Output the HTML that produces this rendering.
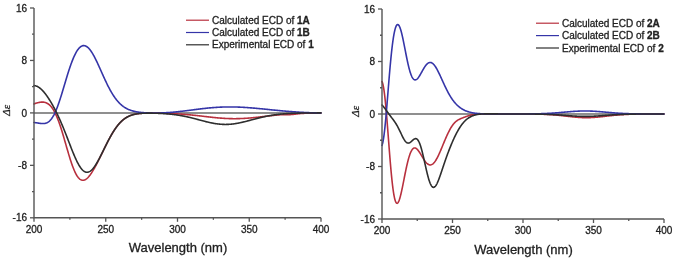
<!DOCTYPE html>
<html><head><meta charset="utf-8"><style>
html,body{margin:0;padding:0;background:#fff;overflow:hidden;width:675px;height:259px;}
svg{display:block;will-change:transform;}
.t{font-family:"Liberation Sans",sans-serif;font-size:10px;fill:#222;stroke:#222;stroke-width:0.3px;}
.xl{font-family:"Liberation Sans",sans-serif;font-size:13px;fill:#222;stroke:#222;stroke-width:0.3px;}
.yl{font-family:"Liberation Serif",serif;font-style:italic;font-size:11px;fill:#222;stroke:#222;stroke-width:0.3px;}
</style></head><body>
<svg width="675" height="259" viewBox="0 0 675 259">
<rect width="675" height="259" fill="#fff"/>
<line x1="34" y1="112.9" x2="321" y2="112.9" stroke="#6a6a6a" stroke-width="1.5"/>
<path d="M34.00,103.88 L34.50,103.70 L35.00,103.54 L35.50,103.37 L36.00,103.22 L36.50,103.06 L37.00,102.92 L37.50,102.78 L38.00,102.66 L38.50,102.54 L39.00,102.43 L39.50,102.34 L40.00,102.26 L40.50,102.19 L41.00,102.14 L41.50,102.10 L42.00,102.08 L42.50,102.08 L43.00,102.10 L43.50,102.15 L44.00,102.21 L44.50,102.31 L45.00,102.42 L45.50,102.57 L46.00,102.75 L46.50,102.96 L47.00,103.20 L47.45,103.44 L47.90,103.72 L48.35,104.03 L48.80,104.36 L49.20,104.69 L49.60,105.05 L50.00,105.43 L50.35,105.79 L50.70,106.17 L51.05,106.57 L51.40,106.99 L51.75,107.44 L52.05,107.84 L52.35,108.27 L52.65,108.70 L52.95,109.16 L53.25,109.64 L53.55,110.13 L53.85,110.64 L54.10,111.08 L54.35,111.54 L54.60,112.00 L54.85,112.48 L55.10,112.98 L55.35,113.48 L55.60,114.00 L55.85,114.54 L56.10,115.08 L56.35,115.64 L56.60,116.21 L56.80,116.68 L57.00,117.15 L57.20,117.64 L57.40,118.13 L57.60,118.62 L57.80,119.13 L58.00,119.65 L58.20,120.17 L58.40,120.70 L58.60,121.24 L58.80,121.78 L59.00,122.33 L59.20,122.89 L59.40,123.46 L59.60,124.03 L59.80,124.61 L60.00,125.20 L60.20,125.80 L60.40,126.40 L60.60,127.00 L60.80,127.62 L61.00,128.24 L61.20,128.86 L61.40,129.49 L61.60,130.13 L61.75,130.61 L61.90,131.09 L62.05,131.57 L62.20,132.06 L62.35,132.55 L62.50,133.05 L62.65,133.54 L62.80,134.04 L62.95,134.54 L63.10,135.04 L63.25,135.55 L63.40,136.05 L63.55,136.56 L63.70,137.07 L63.85,137.58 L64.00,138.10 L64.15,138.61 L64.30,139.13 L64.45,139.64 L64.60,140.16 L64.75,140.68 L64.90,141.20 L65.05,141.72 L65.20,142.24 L65.35,142.76 L65.50,143.28 L65.65,143.81 L65.80,144.33 L65.95,144.85 L66.10,145.37 L66.25,145.89 L66.40,146.42 L66.55,146.94 L66.70,147.46 L66.85,147.98 L67.00,148.50 L67.15,149.01 L67.30,149.53 L67.45,150.05 L67.60,150.56 L67.75,151.07 L67.90,151.59 L68.05,152.10 L68.20,152.60 L68.35,153.11 L68.50,153.62 L68.65,154.12 L68.80,154.62 L68.95,155.12 L69.10,155.61 L69.25,156.10 L69.40,156.59 L69.55,157.08 L69.70,157.56 L69.85,158.05 L70.00,158.52 L70.20,159.16 L70.40,159.78 L70.60,160.40 L70.80,161.02 L71.00,161.62 L71.20,162.22 L71.40,162.82 L71.60,163.40 L71.80,163.98 L72.00,164.55 L72.20,165.11 L72.40,165.66 L72.60,166.21 L72.80,166.74 L73.00,167.27 L73.20,167.79 L73.40,168.30 L73.60,168.80 L73.80,169.29 L74.00,169.77 L74.20,170.24 L74.40,170.70 L74.65,171.26 L74.90,171.81 L75.15,172.34 L75.40,172.85 L75.65,173.35 L75.90,173.83 L76.15,174.29 L76.40,174.74 L76.70,175.25 L77.00,175.74 L77.30,176.20 L77.60,176.63 L77.90,177.05 L78.25,177.49 L78.60,177.91 L78.95,178.29 L79.35,178.68 L79.75,179.03 L80.15,179.33 L80.60,179.62 L81.05,179.86 L81.55,180.06 L82.05,180.19 L82.55,180.26 L83.05,180.27 L83.55,180.22 L84.05,180.11 L84.55,179.95 L85.05,179.73 L85.50,179.49 L85.95,179.21 L86.40,178.89 L86.80,178.58 L87.20,178.23 L87.60,177.86 L88.00,177.46 L88.35,177.09 L88.70,176.70 L89.05,176.29 L89.40,175.87 L89.75,175.42 L90.10,174.97 L90.40,174.56 L90.70,174.14 L91.00,173.72 L91.30,173.28 L91.60,172.83 L91.90,172.37 L92.20,171.91 L92.50,171.43 L92.80,170.95 L93.10,170.45 L93.40,169.95 L93.70,169.44 L94.00,168.93 L94.25,168.49 L94.50,168.05 L94.75,167.60 L95.00,167.15 L95.25,166.70 L95.50,166.24 L95.75,165.78 L96.00,165.31 L96.25,164.84 L96.50,164.37 L96.75,163.89 L97.00,163.41 L97.25,162.93 L97.50,162.45 L97.75,161.96 L98.00,161.46 L98.25,160.97 L98.50,160.47 L98.75,159.98 L99.00,159.47 L99.25,158.97 L99.50,158.47 L99.75,157.96 L100.00,157.45 L100.25,156.94 L100.50,156.43 L100.75,155.92 L101.00,155.41 L101.25,154.90 L101.50,154.38 L101.75,153.87 L102.00,153.35 L102.25,152.84 L102.50,152.32 L102.75,151.81 L103.00,151.29 L103.25,150.78 L103.50,150.26 L103.75,149.75 L104.00,149.23 L104.25,148.72 L104.50,148.21 L104.75,147.70 L105.00,147.19 L105.25,146.68 L105.50,146.17 L105.75,145.67 L106.00,145.16 L106.25,144.66 L106.50,144.16 L106.75,143.66 L107.00,143.17 L107.25,142.68 L107.50,142.18 L107.75,141.70 L108.00,141.21 L108.25,140.73 L108.50,140.25 L108.75,139.77 L109.00,139.30 L109.25,138.83 L109.50,138.36 L109.75,137.90 L110.00,137.44 L110.25,136.98 L110.50,136.53 L110.75,136.08 L111.00,135.63 L111.25,135.19 L111.50,134.76 L111.80,134.24 L112.10,133.73 L112.40,133.22 L112.70,132.72 L113.00,132.23 L113.30,131.74 L113.60,131.26 L113.90,130.79 L114.20,130.32 L114.50,129.86 L114.80,129.41 L115.10,128.97 L115.40,128.53 L115.70,128.10 L116.00,127.68 L116.30,127.26 L116.60,126.85 L116.90,126.45 L117.25,125.99 L117.60,125.54 L117.95,125.11 L118.30,124.68 L118.65,124.26 L119.00,123.85 L119.35,123.46 L119.70,123.07 L120.05,122.69 L120.40,122.32 L120.75,121.97 L121.15,121.57 L121.55,121.18 L121.95,120.81 L122.35,120.45 L122.75,120.11 L123.15,119.77 L123.55,119.45 L123.95,119.14 L124.40,118.80 L124.85,118.48 L125.30,118.17 L125.75,117.87 L126.20,117.59 L126.65,117.32 L127.10,117.07 L127.55,116.82 L128.00,116.59 L128.45,116.37 L128.95,116.13 L129.45,115.91 L129.95,115.71 L130.45,115.51 L130.95,115.33 L131.45,115.15 L131.95,114.99 L132.45,114.84 L132.95,114.69 L133.45,114.56 L133.95,114.44 L134.45,114.32 L134.95,114.21 L135.45,114.11 L135.95,114.02 L136.45,113.93 L136.95,113.85 L137.45,113.77 L137.95,113.70 L138.45,113.64 L138.95,113.58 L139.45,113.53 L139.95,113.48 L140.45,113.43 L140.95,113.39 L141.45,113.35 L141.95,113.32 L142.45,113.29 L142.95,113.26 L143.45,113.23 L143.95,113.21 L144.45,113.19 L144.95,113.17 L145.45,113.15 L145.95,113.14 L146.45,113.13 L146.95,113.11 L147.45,113.10 L147.95,113.10 L148.45,113.09 L148.95,113.09 L149.45,113.08 L149.95,113.08 L150.45,113.08 L150.95,113.07 L151.45,113.07 L151.95,113.08 L152.45,113.08 L152.95,113.08 L153.45,113.08 L153.95,113.09 L154.45,113.09 L154.95,113.10 L155.45,113.10 L155.95,113.11 L156.45,113.11 L156.95,113.12 L157.45,113.13 L157.95,113.14 L158.45,113.15 L158.95,113.16 L159.45,113.17 L159.95,113.18 L160.45,113.19 L160.95,113.20 L161.45,113.21 L161.95,113.22 L162.45,113.24 L162.95,113.25 L163.45,113.26 L163.95,113.28 L164.45,113.29 L164.95,113.31 L165.45,113.32 L165.95,113.34 L166.45,113.36 L166.95,113.37 L167.45,113.39 L167.95,113.41 L168.45,113.43 L168.95,113.45 L169.45,113.47 L169.95,113.49 L170.45,113.51 L170.95,113.53 L171.45,113.55 L171.95,113.58 L172.45,113.60 L172.95,113.62 L173.45,113.65 L173.95,113.67 L174.45,113.70 L174.95,113.73 L175.45,113.75 L175.95,113.78 L176.45,113.81 L176.95,113.84 L177.45,113.87 L177.95,113.90 L178.45,113.93 L178.95,113.97 L179.45,114.00 L179.95,114.03 L180.45,114.07 L180.95,114.10 L181.45,114.14 L181.95,114.17 L182.45,114.21 L182.95,114.25 L183.45,114.29 L183.95,114.33 L184.45,114.37 L184.95,114.41 L185.45,114.45 L185.95,114.49 L186.45,114.53 L186.95,114.58 L187.45,114.62 L187.95,114.66 L188.45,114.71 L188.95,114.76 L189.45,114.80 L189.95,114.85 L190.45,114.90 L190.95,114.95 L191.45,115.00 L191.95,115.04 L192.45,115.10 L192.95,115.15 L193.45,115.20 L193.95,115.25 L194.45,115.30 L194.95,115.36 L195.45,115.41 L195.95,115.46 L196.45,115.52 L196.95,115.57 L197.45,115.63 L197.95,115.68 L198.45,115.74 L198.95,115.80 L199.45,115.85 L199.95,115.91 L200.45,115.97 L200.95,116.02 L201.45,116.08 L201.95,116.14 L202.45,116.20 L202.95,116.25 L203.45,116.31 L203.95,116.37 L204.45,116.43 L204.95,116.49 L205.45,116.54 L205.95,116.60 L206.45,116.66 L206.95,116.72 L207.45,116.78 L207.95,116.83 L208.45,116.89 L208.95,116.95 L209.45,117.00 L209.95,117.06 L210.45,117.12 L210.95,117.17 L211.45,117.23 L211.95,117.28 L212.45,117.33 L212.95,117.39 L213.45,117.44 L213.95,117.49 L214.45,117.54 L214.95,117.59 L215.45,117.64 L215.95,117.69 L216.45,117.74 L216.95,117.79 L217.45,117.84 L217.95,117.88 L218.45,117.93 L218.95,117.97 L219.45,118.01 L219.95,118.05 L220.45,118.10 L220.95,118.13 L221.45,118.17 L221.95,118.21 L222.45,118.25 L222.95,118.28 L223.45,118.31 L223.95,118.35 L224.45,118.38 L224.95,118.41 L225.45,118.43 L225.95,118.46 L226.45,118.49 L226.95,118.51 L227.45,118.53 L227.95,118.55 L228.45,118.57 L228.95,118.59 L229.45,118.61 L229.95,118.62 L230.45,118.64 L230.95,118.65 L231.45,118.66 L231.95,118.67 L232.45,118.67 L232.95,118.68 L233.45,118.68 L233.95,118.69 L234.45,118.69 L234.95,118.69 L235.45,118.68 L235.95,118.68 L236.45,118.67 L236.95,118.67 L237.45,118.66 L237.95,118.65 L238.45,118.64 L238.95,118.62 L239.45,118.61 L239.95,118.59 L240.45,118.57 L240.95,118.55 L241.45,118.53 L241.95,118.51 L242.45,118.49 L242.95,118.46 L243.45,118.44 L243.95,118.41 L244.45,118.38 L244.95,118.35 L245.45,118.32 L245.95,118.28 L246.45,118.25 L246.95,118.21 L247.45,118.18 L247.95,118.14 L248.45,118.10 L248.95,118.06 L249.45,118.02 L249.95,117.97 L250.45,117.93 L250.95,117.88 L251.45,117.84 L251.95,117.79 L252.45,117.75 L252.95,117.70 L253.45,117.65 L253.95,117.60 L254.45,117.55 L254.95,117.50 L255.45,117.44 L255.95,117.39 L256.45,117.34 L256.95,117.28 L257.45,117.23 L257.95,117.17 L258.45,117.12 L258.95,117.06 L259.45,117.01 L259.95,116.95 L260.45,116.89 L260.95,116.84 L261.45,116.78 L261.95,116.72 L262.45,116.66 L262.95,116.61 L263.45,116.55 L263.95,116.49 L264.45,116.43 L264.95,116.37 L265.45,116.32 L265.95,116.26 L266.45,116.20 L266.95,116.14 L267.45,116.08 L267.95,116.03 L268.45,115.97 L268.95,115.91 L269.45,115.86 L269.95,115.80 L270.45,115.74 L270.95,115.69 L271.45,115.63 L271.95,115.58 L272.45,115.52 L272.95,115.47 L273.45,115.41 L273.95,115.36 L274.45,115.31 L274.95,115.26 L275.45,115.20 L275.95,115.15 L276.45,115.11 L276.95,115.06 L277.45,115.01 L277.95,114.97 L278.45,114.92 L278.95,114.88 L279.45,114.84 L279.95,114.80 L280.45,114.77 L280.95,114.74 L281.45,114.71 L281.95,114.68 L282.45,114.66 L282.95,114.64 L283.45,114.63 L283.95,114.62 L284.45,114.61 L284.95,114.61 L285.45,114.60 L285.95,114.60 L286.45,114.61 L286.95,114.61 L287.45,114.61 L287.95,114.62 L288.45,114.62 L288.95,114.61 L289.45,114.61 L289.95,114.60 L290.45,114.58 L290.95,114.56 L291.45,114.53 L291.95,114.50 L292.45,114.46 L292.95,114.42 L293.45,114.37 L293.95,114.32 L294.45,114.26 L294.95,114.20 L295.45,114.13 L295.95,114.07 L296.45,114.01 L296.95,113.94 L297.45,113.88 L297.95,113.82 L298.45,113.76 L298.95,113.71 L299.45,113.65 L299.95,113.61 L300.45,113.56 L300.95,113.52 L301.45,113.48 L301.95,113.45 L302.45,113.42 L302.95,113.39 L303.45,113.36 L303.95,113.34 L304.45,113.32 L304.95,113.30 L305.45,113.28 L305.95,113.26 L306.45,113.24 L306.95,113.23 L307.45,113.21 L307.95,113.20 L308.45,113.19 L308.95,113.18 L309.45,113.17 L309.95,113.15 L310.45,113.14 L310.95,113.13 L311.45,113.12 L311.95,113.11 L312.45,113.11 L312.95,113.10 L313.45,113.09 L313.95,113.08 L314.45,113.07 L314.95,113.07 L315.45,113.06 L315.95,113.05 L316.45,113.04 L316.95,113.04 L317.45,113.03 L317.95,113.03 L318.45,113.02 L318.95,113.01 L319.45,113.01 L319.95,113.00 L320.45,113.00 L320.95,113.00 L321.00,112.99" fill="none" stroke="#b8303e" stroke-width="1.6" stroke-linejoin="round" stroke-linecap="round"/>
<path d="M34.00,122.47 L34.50,122.53 L35.00,122.60 L35.50,122.67 L36.00,122.74 L36.50,122.82 L37.00,122.89 L37.50,122.97 L38.00,123.05 L38.50,123.13 L39.00,123.20 L39.50,123.28 L40.00,123.34 L40.50,123.41 L41.00,123.46 L41.50,123.50 L42.00,123.54 L42.50,123.56 L43.00,123.56 L43.50,123.55 L44.00,123.51 L44.50,123.45 L45.00,123.37 L45.50,123.26 L46.00,123.11 L46.50,122.93 L47.00,122.72 L47.45,122.50 L47.90,122.24 L48.35,121.95 L48.80,121.61 L49.20,121.29 L49.60,120.93 L50.00,120.54 L50.35,120.17 L50.70,119.78 L51.05,119.36 L51.40,118.91 L51.70,118.51 L52.00,118.08 L52.30,117.63 L52.60,117.17 L52.90,116.68 L53.20,116.17 L53.45,115.73 L53.70,115.27 L53.95,114.81 L54.20,114.32 L54.45,113.82 L54.70,113.31 L54.95,112.79 L55.20,112.24 L55.45,111.69 L55.70,111.12 L55.90,110.66 L56.10,110.18 L56.30,109.70 L56.50,109.21 L56.70,108.71 L56.90,108.21 L57.10,107.69 L57.30,107.17 L57.50,106.64 L57.70,106.10 L57.90,105.56 L58.10,105.01 L58.30,104.45 L58.50,103.88 L58.70,103.31 L58.90,102.73 L59.10,102.14 L59.30,101.55 L59.50,100.95 L59.70,100.35 L59.90,99.74 L60.10,99.13 L60.30,98.51 L60.50,97.88 L60.70,97.25 L60.90,96.62 L61.05,96.14 L61.20,95.66 L61.35,95.18 L61.50,94.69 L61.65,94.21 L61.80,93.72 L61.95,93.23 L62.10,92.74 L62.25,92.24 L62.40,91.75 L62.55,91.25 L62.70,90.76 L62.85,90.26 L63.00,89.76 L63.15,89.26 L63.30,88.76 L63.45,88.25 L63.60,87.75 L63.75,87.25 L63.90,86.74 L64.05,86.24 L64.20,85.74 L64.35,85.23 L64.50,84.73 L64.65,84.22 L64.80,83.72 L64.95,83.22 L65.10,82.71 L65.25,82.21 L65.40,81.71 L65.55,81.20 L65.70,80.70 L65.85,80.20 L66.00,79.70 L66.15,79.21 L66.30,78.71 L66.45,78.21 L66.60,77.72 L66.75,77.23 L66.90,76.73 L67.05,76.24 L67.20,75.76 L67.35,75.27 L67.50,74.79 L67.65,74.30 L67.80,73.82 L67.95,73.34 L68.15,72.71 L68.35,72.08 L68.55,71.45 L68.75,70.83 L68.95,70.21 L69.15,69.60 L69.35,69.00 L69.55,68.39 L69.75,67.80 L69.95,67.21 L70.15,66.62 L70.35,66.04 L70.55,65.47 L70.75,64.90 L70.95,64.34 L71.15,63.78 L71.35,63.24 L71.55,62.70 L71.75,62.16 L71.95,61.63 L72.15,61.11 L72.35,60.60 L72.55,60.09 L72.75,59.59 L72.95,59.10 L73.15,58.62 L73.35,58.14 L73.55,57.68 L73.75,57.22 L74.00,56.65 L74.25,56.10 L74.50,55.56 L74.75,55.04 L75.00,54.53 L75.25,54.03 L75.50,53.54 L75.75,53.07 L76.00,52.61 L76.25,52.17 L76.55,51.65 L76.85,51.16 L77.15,50.69 L77.45,50.23 L77.75,49.80 L78.05,49.39 L78.40,48.94 L78.75,48.51 L79.10,48.12 L79.45,47.75 L79.85,47.36 L80.25,47.02 L80.65,46.71 L81.10,46.41 L81.55,46.15 L82.05,45.93 L82.55,45.76 L83.05,45.65 L83.55,45.60 L84.05,45.61 L84.55,45.67 L85.05,45.79 L85.55,45.97 L86.05,46.19 L86.50,46.45 L86.95,46.74 L87.40,47.08 L87.80,47.41 L88.20,47.77 L88.60,48.17 L88.95,48.54 L89.30,48.93 L89.65,49.34 L90.00,49.78 L90.35,50.24 L90.65,50.64 L90.95,51.07 L91.25,51.50 L91.55,51.95 L91.85,52.42 L92.15,52.90 L92.45,53.39 L92.75,53.89 L93.05,54.40 L93.30,54.84 L93.55,55.28 L93.80,55.73 L94.05,56.19 L94.30,56.66 L94.55,57.13 L94.80,57.61 L95.05,58.10 L95.30,58.59 L95.55,59.09 L95.80,59.59 L96.05,60.10 L96.30,60.61 L96.55,61.13 L96.80,61.65 L97.05,62.18 L97.30,62.71 L97.55,63.24 L97.80,63.78 L98.05,64.32 L98.30,64.86 L98.55,65.41 L98.80,65.96 L99.05,66.51 L99.30,67.06 L99.55,67.62 L99.80,68.17 L100.05,68.73 L100.30,69.29 L100.55,69.85 L100.80,70.41 L101.05,70.97 L101.30,71.53 L101.55,72.09 L101.80,72.65 L102.05,73.21 L102.30,73.77 L102.55,74.33 L102.80,74.89 L103.05,75.44 L103.30,76.00 L103.55,76.55 L103.80,77.10 L104.05,77.65 L104.30,78.20 L104.55,78.74 L104.80,79.28 L105.05,79.82 L105.30,80.36 L105.55,80.89 L105.80,81.42 L106.05,81.95 L106.30,82.47 L106.55,82.99 L106.80,83.51 L107.05,84.02 L107.30,84.53 L107.55,85.04 L107.80,85.54 L108.05,86.03 L108.30,86.52 L108.55,87.01 L108.80,87.49 L109.05,87.97 L109.30,88.44 L109.55,88.91 L109.80,89.38 L110.05,89.83 L110.30,90.29 L110.55,90.74 L110.80,91.18 L111.05,91.62 L111.35,92.13 L111.65,92.65 L111.95,93.15 L112.25,93.64 L112.55,94.13 L112.85,94.61 L113.15,95.08 L113.45,95.54 L113.75,96.00 L114.05,96.45 L114.35,96.89 L114.65,97.32 L114.95,97.74 L115.25,98.16 L115.55,98.56 L115.90,99.03 L116.25,99.48 L116.60,99.92 L116.95,100.36 L117.30,100.78 L117.65,101.19 L118.00,101.59 L118.35,101.98 L118.70,102.36 L119.05,102.73 L119.40,103.09 L119.80,103.49 L120.20,103.88 L120.60,104.25 L121.00,104.61 L121.40,104.96 L121.80,105.30 L122.20,105.63 L122.60,105.94 L123.00,106.25 L123.45,106.58 L123.90,106.89 L124.35,107.20 L124.80,107.49 L125.25,107.76 L125.70,108.03 L126.15,108.29 L126.60,108.53 L127.05,108.76 L127.50,108.99 L128.00,109.22 L128.50,109.45 L129.00,109.66 L129.50,109.86 L130.00,110.05 L130.50,110.23 L131.00,110.41 L131.50,110.57 L132.00,110.72 L132.50,110.87 L133.00,111.01 L133.50,111.14 L134.00,111.26 L134.50,111.38 L135.00,111.49 L135.50,111.59 L136.00,111.69 L136.50,111.78 L137.00,111.87 L137.50,111.96 L138.00,112.03 L138.50,112.11 L139.00,112.18 L139.50,112.24 L140.00,112.30 L140.50,112.36 L141.00,112.42 L141.50,112.47 L142.00,112.52 L142.50,112.56 L143.00,112.61 L143.50,112.65 L144.00,112.68 L144.50,112.72 L145.00,112.75 L145.50,112.78 L146.00,112.81 L146.50,112.84 L147.00,112.86 L147.50,112.89 L148.00,112.91 L148.50,112.93 L149.00,112.94 L149.50,112.96 L150.00,112.97 L150.50,112.99 L151.00,113.00 L151.50,113.01 L152.00,113.02 L152.50,113.02 L153.00,113.03 L153.50,113.03 L154.00,113.03 L154.50,113.03 L155.00,113.03 L155.50,113.03 L156.00,113.03 L156.50,113.02 L157.00,113.02 L157.50,113.01 L158.00,113.00 L158.50,112.99 L159.00,112.98 L159.50,112.97 L160.00,112.96 L160.50,112.94 L161.00,112.93 L161.50,112.91 L162.00,112.89 L162.50,112.87 L163.00,112.85 L163.50,112.83 L164.00,112.80 L164.50,112.78 L165.00,112.75 L165.50,112.73 L166.00,112.70 L166.50,112.67 L167.00,112.64 L167.50,112.61 L168.00,112.57 L168.50,112.54 L169.00,112.50 L169.50,112.47 L170.00,112.43 L170.50,112.39 L171.00,112.35 L171.50,112.31 L172.00,112.27 L172.50,112.23 L173.00,112.18 L173.50,112.14 L174.00,112.09 L174.50,112.05 L175.00,112.00 L175.50,111.95 L176.00,111.90 L176.50,111.85 L177.00,111.80 L177.50,111.75 L178.00,111.69 L178.50,111.64 L179.00,111.58 L179.50,111.53 L180.00,111.47 L180.50,111.42 L181.00,111.36 L181.50,111.30 L182.00,111.24 L182.50,111.18 L183.00,111.12 L183.50,111.06 L184.00,111.00 L184.50,110.94 L185.00,110.88 L185.50,110.82 L186.00,110.75 L186.50,110.69 L187.00,110.63 L187.50,110.56 L188.00,110.50 L188.50,110.43 L189.00,110.37 L189.50,110.31 L190.00,110.24 L190.50,110.18 L191.00,110.11 L191.50,110.05 L192.00,109.98 L192.50,109.92 L193.00,109.85 L193.50,109.79 L194.00,109.72 L194.50,109.66 L195.00,109.59 L195.50,109.53 L196.00,109.46 L196.50,109.40 L197.00,109.34 L197.50,109.27 L198.00,109.21 L198.50,109.15 L199.00,109.09 L199.50,109.03 L200.00,108.96 L200.50,108.90 L201.00,108.84 L201.50,108.78 L202.00,108.72 L202.50,108.67 L203.00,108.61 L203.50,108.55 L204.00,108.49 L204.50,108.44 L205.00,108.38 L205.50,108.33 L206.00,108.28 L206.50,108.22 L207.00,108.17 L207.50,108.12 L208.00,108.07 L208.50,108.02 L209.00,107.97 L209.50,107.92 L210.00,107.88 L210.50,107.83 L211.00,107.79 L211.50,107.74 L212.00,107.70 L212.50,107.66 L213.00,107.62 L213.50,107.58 L214.00,107.54 L214.50,107.50 L215.00,107.47 L215.50,107.43 L216.00,107.40 L216.50,107.36 L217.00,107.33 L217.50,107.30 L218.00,107.27 L218.50,107.24 L219.00,107.22 L219.50,107.19 L220.00,107.17 L220.50,107.14 L221.00,107.12 L221.50,107.10 L222.00,107.08 L222.50,107.06 L223.00,107.04 L223.50,107.03 L224.00,107.01 L224.50,107.00 L225.00,106.99 L225.50,106.97 L226.00,106.96 L226.50,106.96 L227.00,106.95 L227.50,106.94 L228.00,106.94 L228.50,106.93 L229.00,106.93 L229.50,106.93 L230.00,106.93 L230.50,106.93 L231.00,106.93 L231.50,106.93 L232.00,106.94 L232.50,106.94 L233.00,106.95 L233.50,106.96 L234.00,106.97 L234.50,106.98 L235.00,106.99 L235.50,107.00 L236.00,107.02 L236.50,107.03 L237.00,107.05 L237.50,107.06 L238.00,107.08 L238.50,107.10 L239.00,107.12 L239.50,107.14 L240.00,107.16 L240.50,107.19 L241.00,107.21 L241.50,107.24 L242.00,107.26 L242.50,107.29 L243.00,107.32 L243.50,107.34 L244.00,107.37 L244.50,107.40 L245.00,107.44 L245.50,107.47 L246.00,107.50 L246.50,107.53 L247.00,107.57 L247.50,107.60 L248.00,107.64 L248.50,107.68 L249.00,107.71 L249.50,107.75 L250.00,107.79 L250.50,107.83 L251.00,107.87 L251.50,107.91 L252.00,107.95 L252.50,107.99 L253.00,108.04 L253.50,108.08 L254.00,108.12 L254.50,108.17 L255.00,108.21 L255.50,108.26 L256.00,108.30 L256.50,108.35 L257.00,108.39 L257.50,108.44 L258.00,108.49 L258.50,108.53 L259.00,108.58 L259.50,108.63 L260.00,108.68 L260.50,108.73 L261.00,108.77 L261.50,108.82 L262.00,108.87 L262.50,108.92 L263.00,108.97 L263.50,109.02 L264.00,109.07 L264.50,109.12 L265.00,109.17 L265.50,109.22 L266.00,109.27 L266.50,109.32 L267.00,109.37 L267.50,109.42 L268.00,109.47 L268.50,109.52 L269.00,109.57 L269.50,109.63 L270.00,109.68 L270.50,109.73 L271.00,109.78 L271.50,109.83 L272.00,109.88 L272.50,109.93 L273.00,109.98 L273.50,110.03 L274.00,110.08 L274.50,110.13 L275.00,110.17 L275.50,110.22 L276.00,110.27 L276.50,110.32 L277.00,110.37 L277.50,110.42 L278.00,110.47 L278.50,110.51 L279.00,110.56 L279.50,110.61 L280.00,110.66 L280.50,110.70 L281.00,110.75 L281.50,110.79 L282.00,110.84 L282.50,110.88 L283.00,110.93 L283.50,110.97 L284.00,111.02 L284.50,111.06 L285.00,111.11 L285.50,111.15 L286.00,111.19 L286.50,111.23 L287.00,111.28 L287.50,111.32 L288.00,111.36 L288.50,111.40 L289.00,111.44 L289.50,111.48 L290.00,111.52 L290.50,111.56 L291.00,111.60 L291.50,111.63 L292.00,111.67 L292.50,111.71 L293.00,111.74 L293.50,111.78 L294.00,111.82 L294.50,111.85 L295.00,111.89 L295.50,111.92 L296.00,111.96 L296.50,111.99 L297.00,112.02 L297.50,112.05 L298.00,112.09 L298.50,112.12 L299.00,112.15 L299.50,112.18 L300.00,112.21 L300.50,112.24 L301.00,112.27 L301.50,112.30 L302.00,112.32 L302.50,112.35 L303.00,112.38 L303.50,112.41 L304.00,112.43 L304.50,112.46 L305.00,112.48 L305.50,112.51 L306.00,112.53 L306.50,112.56 L307.00,112.58 L307.50,112.60 L308.00,112.62 L308.50,112.65 L309.00,112.67 L309.50,112.69 L310.00,112.71 L310.50,112.73 L311.00,112.75 L311.50,112.77 L312.00,112.79 L312.50,112.81 L313.00,112.82 L313.50,112.84 L314.00,112.86 L314.50,112.87 L315.00,112.89 L315.50,112.91 L316.00,112.92 L316.50,112.94 L317.00,112.95 L317.50,112.97 L318.00,112.98 L318.50,112.99 L319.00,113.01 L319.50,113.02 L320.00,113.03 L320.50,113.04 L321.00,113.06 L321.00,113.06" fill="none" stroke="#3535a8" stroke-width="1.6" stroke-linejoin="round" stroke-linecap="round"/>
<path d="M34.00,85.58 L34.50,85.63 L35.00,85.71 L35.50,85.82 L36.00,85.96 L36.50,86.14 L37.00,86.34 L37.50,86.58 L37.95,86.81 L38.40,87.07 L38.85,87.36 L39.30,87.66 L39.75,88.00 L40.15,88.31 L40.55,88.64 L40.95,88.99 L41.35,89.35 L41.75,89.73 L42.15,90.13 L42.50,90.49 L42.85,90.86 L43.20,91.24 L43.55,91.64 L43.90,92.04 L44.25,92.46 L44.60,92.89 L44.95,93.33 L45.30,93.77 L45.65,94.23 L45.95,94.63 L46.25,95.04 L46.55,95.46 L46.85,95.88 L47.15,96.30 L47.45,96.74 L47.75,97.18 L48.05,97.63 L48.35,98.08 L48.65,98.54 L48.95,99.00 L49.25,99.48 L49.55,99.95 L49.85,100.44 L50.15,100.92 L50.45,101.42 L50.75,101.92 L51.05,102.42 L51.35,102.94 L51.65,103.45 L51.90,103.89 L52.15,104.33 L52.40,104.77 L52.65,105.21 L52.90,105.66 L53.15,106.12 L53.40,106.58 L53.65,107.04 L53.90,107.50 L54.15,107.97 L54.40,108.44 L54.65,108.92 L54.90,109.40 L55.15,109.88 L55.40,110.37 L55.65,110.86 L55.90,111.36 L56.15,111.86 L56.40,112.36 L56.65,112.87 L56.90,113.38 L57.15,113.89 L57.40,114.41 L57.65,114.93 L57.90,115.46 L58.15,115.99 L58.40,116.53 L58.65,117.06 L58.90,117.61 L59.15,118.15 L59.40,118.70 L59.65,119.25 L59.90,119.81 L60.15,120.37 L60.40,120.94 L60.65,121.51 L60.90,122.08 L61.10,122.54 L61.30,123.01 L61.50,123.47 L61.70,123.94 L61.90,124.41 L62.10,124.88 L62.30,125.36 L62.50,125.84 L62.70,126.32 L62.90,126.80 L63.10,127.28 L63.30,127.77 L63.50,128.26 L63.70,128.75 L63.90,129.24 L64.10,129.73 L64.30,130.23 L64.50,130.73 L64.70,131.23 L64.90,131.73 L65.10,132.23 L65.30,132.74 L65.50,133.24 L65.70,133.75 L65.90,134.26 L66.10,134.77 L66.30,135.28 L66.50,135.80 L66.70,136.31 L66.90,136.82 L67.10,137.34 L67.30,137.86 L67.50,138.37 L67.70,138.89 L67.90,139.41 L68.10,139.93 L68.30,140.45 L68.50,140.97 L68.70,141.49 L68.90,142.01 L69.10,142.53 L69.30,143.05 L69.50,143.56 L69.70,144.08 L69.90,144.60 L70.10,145.12 L70.30,145.63 L70.50,146.15 L70.70,146.66 L70.90,147.18 L71.10,147.69 L71.30,148.20 L71.50,148.71 L71.70,149.21 L71.90,149.72 L72.10,150.22 L72.30,150.72 L72.50,151.22 L72.70,151.71 L72.90,152.21 L73.10,152.70 L73.30,153.18 L73.50,153.67 L73.70,154.15 L73.90,154.63 L74.10,155.10 L74.30,155.57 L74.50,156.04 L74.70,156.50 L74.90,156.96 L75.15,157.52 L75.40,158.08 L75.65,158.64 L75.90,159.18 L76.15,159.72 L76.40,160.25 L76.65,160.77 L76.90,161.28 L77.15,161.78 L77.40,162.28 L77.65,162.76 L77.90,163.24 L78.15,163.70 L78.40,164.16 L78.65,164.60 L78.90,165.03 L79.20,165.54 L79.50,166.03 L79.80,166.50 L80.10,166.96 L80.40,167.40 L80.70,167.82 L81.00,168.23 L81.35,168.67 L81.70,169.10 L82.05,169.49 L82.40,169.87 L82.80,170.26 L83.20,170.62 L83.60,170.94 L84.05,171.26 L84.50,171.54 L84.95,171.77 L85.45,171.97 L85.95,172.12 L86.45,172.21 L86.95,172.25 L87.45,172.23 L87.95,172.15 L88.45,172.02 L88.95,171.84 L89.45,171.60 L89.90,171.35 L90.35,171.05 L90.80,170.72 L91.20,170.38 L91.60,170.02 L92.00,169.63 L92.35,169.27 L92.70,168.88 L93.05,168.48 L93.40,168.05 L93.75,167.60 L94.10,167.14 L94.40,166.73 L94.70,166.30 L95.00,165.87 L95.30,165.42 L95.60,164.96 L95.90,164.49 L96.20,164.00 L96.50,163.51 L96.80,163.01 L97.10,162.50 L97.40,161.98 L97.65,161.54 L97.90,161.09 L98.15,160.64 L98.40,160.19 L98.65,159.73 L98.90,159.26 L99.15,158.79 L99.40,158.32 L99.65,157.84 L99.90,157.36 L100.15,156.88 L100.40,156.39 L100.65,155.90 L100.90,155.40 L101.15,154.91 L101.40,154.41 L101.65,153.91 L101.90,153.41 L102.15,152.91 L102.40,152.40 L102.65,151.90 L102.90,151.39 L103.15,150.88 L103.40,150.38 L103.65,149.87 L103.90,149.36 L104.15,148.85 L104.40,148.35 L104.65,147.84 L104.90,147.33 L105.15,146.83 L105.40,146.32 L105.65,145.82 L105.90,145.32 L106.15,144.82 L106.40,144.32 L106.65,143.83 L106.90,143.33 L107.15,142.84 L107.40,142.35 L107.65,141.86 L107.90,141.38 L108.15,140.90 L108.40,140.42 L108.65,139.94 L108.90,139.47 L109.15,139.00 L109.40,138.53 L109.65,138.07 L109.90,137.61 L110.15,137.15 L110.40,136.70 L110.65,136.25 L110.90,135.81 L111.15,135.37 L111.40,134.93 L111.70,134.41 L112.00,133.90 L112.30,133.40 L112.60,132.90 L112.90,132.40 L113.20,131.92 L113.50,131.44 L113.80,130.97 L114.10,130.50 L114.40,130.04 L114.70,129.59 L115.00,129.15 L115.30,128.71 L115.60,128.28 L115.90,127.85 L116.20,127.44 L116.50,127.03 L116.80,126.63 L117.15,126.17 L117.50,125.72 L117.85,125.28 L118.20,124.85 L118.55,124.43 L118.90,124.02 L119.25,123.62 L119.60,123.24 L119.95,122.86 L120.30,122.49 L120.65,122.13 L121.05,121.73 L121.45,121.34 L121.85,120.96 L122.25,120.60 L122.65,120.25 L123.05,119.91 L123.45,119.58 L123.85,119.27 L124.25,118.96 L124.70,118.63 L125.15,118.32 L125.60,118.02 L126.05,117.73 L126.50,117.45 L126.95,117.19 L127.40,116.94 L127.85,116.70 L128.30,116.47 L128.80,116.23 L129.30,116.00 L129.80,115.79 L130.30,115.59 L130.80,115.40 L131.30,115.22 L131.80,115.05 L132.30,114.89 L132.80,114.75 L133.30,114.61 L133.80,114.48 L134.30,114.36 L134.80,114.25 L135.30,114.15 L135.80,114.05 L136.30,113.96 L136.80,113.88 L137.30,113.80 L137.80,113.73 L138.30,113.66 L138.80,113.60 L139.30,113.55 L139.80,113.50 L140.30,113.45 L140.80,113.41 L141.30,113.38 L141.80,113.34 L142.30,113.31 L142.80,113.28 L143.30,113.26 L143.80,113.24 L144.30,113.22 L144.80,113.20 L145.30,113.19 L145.80,113.18 L146.30,113.17 L146.80,113.16 L147.30,113.15 L147.80,113.15 L148.30,113.14 L148.80,113.14 L149.30,113.14 L149.80,113.14 L150.30,113.15 L150.80,113.15 L151.30,113.15 L151.80,113.16 L152.30,113.17 L152.80,113.18 L153.30,113.19 L153.80,113.20 L154.30,113.21 L154.80,113.22 L155.30,113.23 L155.80,113.25 L156.30,113.26 L156.80,113.28 L157.30,113.30 L157.80,113.32 L158.30,113.34 L158.80,113.36 L159.30,113.38 L159.80,113.40 L160.30,113.42 L160.80,113.45 L161.30,113.47 L161.80,113.50 L162.30,113.53 L162.80,113.56 L163.30,113.59 L163.80,113.62 L164.30,113.65 L164.80,113.69 L165.30,113.72 L165.80,113.76 L166.30,113.80 L166.80,113.83 L167.30,113.88 L167.80,113.92 L168.30,113.96 L168.80,114.01 L169.30,114.05 L169.80,114.10 L170.30,114.15 L170.80,114.20 L171.30,114.25 L171.80,114.31 L172.30,114.36 L172.80,114.42 L173.30,114.48 L173.80,114.54 L174.30,114.61 L174.80,114.67 L175.30,114.74 L175.80,114.80 L176.30,114.87 L176.80,114.95 L177.30,115.02 L177.80,115.10 L178.30,115.17 L178.80,115.25 L179.30,115.33 L179.80,115.42 L180.30,115.50 L180.80,115.59 L181.30,115.68 L181.80,115.77 L182.30,115.86 L182.80,115.95 L183.30,116.05 L183.80,116.15 L184.30,116.25 L184.80,116.35 L185.30,116.45 L185.80,116.56 L186.30,116.67 L186.80,116.77 L187.30,116.88 L187.80,117.00 L188.30,117.11 L188.80,117.23 L189.30,117.34 L189.80,117.46 L190.30,117.58 L190.80,117.70 L191.30,117.82 L191.80,117.95 L192.30,118.07 L192.80,118.20 L193.30,118.32 L193.80,118.45 L194.30,118.58 L194.80,118.71 L195.30,118.84 L195.80,118.97 L196.30,119.10 L196.80,119.24 L197.30,119.37 L197.80,119.50 L198.30,119.64 L198.80,119.77 L199.30,119.90 L199.80,120.04 L200.30,120.17 L200.80,120.30 L201.30,120.44 L201.80,120.57 L202.30,120.70 L202.80,120.83 L203.30,120.96 L203.80,121.09 L204.30,121.22 L204.80,121.35 L205.30,121.48 L205.80,121.60 L206.30,121.73 L206.80,121.85 L207.30,121.97 L207.80,122.09 L208.30,122.21 L208.80,122.32 L209.30,122.44 L209.80,122.55 L210.30,122.66 L210.80,122.76 L211.30,122.87 L211.80,122.97 L212.30,123.07 L212.80,123.16 L213.30,123.26 L213.80,123.35 L214.30,123.44 L214.80,123.52 L215.30,123.60 L215.80,123.68 L216.30,123.75 L216.80,123.82 L217.30,123.89 L217.80,123.95 L218.30,124.01 L218.80,124.07 L219.30,124.12 L219.80,124.17 L220.30,124.21 L220.80,124.25 L221.30,124.29 L221.80,124.32 L222.30,124.35 L222.80,124.37 L223.30,124.39 L223.80,124.41 L224.30,124.42 L224.80,124.43 L225.30,124.43 L225.80,124.43 L226.30,124.42 L226.80,124.41 L227.30,124.40 L227.80,124.38 L228.30,124.36 L228.80,124.33 L229.30,124.30 L229.80,124.27 L230.30,124.23 L230.80,124.19 L231.30,124.14 L231.80,124.09 L232.30,124.04 L232.80,123.98 L233.30,123.92 L233.80,123.85 L234.30,123.78 L234.80,123.71 L235.30,123.63 L235.80,123.55 L236.30,123.47 L236.80,123.39 L237.30,123.30 L237.80,123.20 L238.30,123.11 L238.80,123.01 L239.30,122.91 L239.80,122.81 L240.30,122.70 L240.80,122.59 L241.30,122.48 L241.80,122.37 L242.30,122.26 L242.80,122.14 L243.30,122.02 L243.80,121.90 L244.30,121.78 L244.80,121.66 L245.30,121.53 L245.80,121.40 L246.30,121.28 L246.80,121.15 L247.30,121.02 L247.80,120.89 L248.30,120.76 L248.80,120.63 L249.30,120.49 L249.80,120.36 L250.30,120.23 L250.80,120.09 L251.30,119.96 L251.80,119.83 L252.30,119.69 L252.80,119.56 L253.30,119.42 L253.80,119.29 L254.30,119.16 L254.80,119.03 L255.30,118.90 L255.80,118.76 L256.30,118.63 L256.80,118.51 L257.30,118.38 L257.80,118.25 L258.30,118.12 L258.80,118.00 L259.30,117.87 L259.80,117.75 L260.30,117.63 L260.80,117.51 L261.30,117.39 L261.80,117.27 L262.30,117.16 L262.80,117.04 L263.30,116.93 L263.80,116.82 L264.30,116.71 L264.80,116.60 L265.30,116.50 L265.80,116.39 L266.30,116.29 L266.80,116.19 L267.30,116.09 L267.80,115.99 L268.30,115.90 L268.80,115.81 L269.30,115.72 L269.80,115.63 L270.30,115.54 L270.80,115.45 L271.30,115.37 L271.80,115.29 L272.30,115.21 L272.80,115.13 L273.30,115.05 L273.80,114.98 L274.30,114.90 L274.80,114.83 L275.30,114.76 L275.80,114.70 L276.30,114.63 L276.80,114.57 L277.30,114.51 L277.80,114.45 L278.30,114.39 L278.80,114.33 L279.30,114.28 L279.80,114.22 L280.30,114.17 L280.80,114.12 L281.30,114.07 L281.80,114.02 L282.30,113.98 L282.80,113.93 L283.30,113.89 L283.80,113.85 L284.30,113.81 L284.80,113.77 L285.30,113.74 L285.80,113.70 L286.30,113.66 L286.80,113.63 L287.30,113.60 L287.80,113.57 L288.30,113.54 L288.80,113.51 L289.30,113.48 L289.80,113.45 L290.30,113.43 L290.80,113.40 L291.30,113.38 L291.80,113.36 L292.30,113.34 L292.80,113.32 L293.30,113.30 L293.80,113.28 L294.30,113.26 L294.80,113.24 L295.30,113.22 L295.80,113.21 L296.30,113.19 L296.80,113.18 L297.30,113.16 L297.80,113.15 L298.30,113.14 L298.80,113.12 L299.30,113.11 L299.80,113.10 L300.30,113.09 L300.80,113.08 L301.30,113.07 L301.80,113.06 L302.30,113.05 L302.80,113.04 L303.30,113.04 L303.80,113.03 L304.30,113.02 L304.80,113.01 L305.30,113.01 L305.80,113.00 L306.30,113.00 L306.80,112.99 L307.30,112.99 L307.80,112.98 L308.30,112.98 L308.80,112.97 L309.30,112.97 L309.80,112.96 L310.30,112.96 L310.80,112.96 L311.30,112.95 L311.80,112.95 L312.30,112.95 L312.80,112.94 L313.30,112.94 L313.80,112.94 L314.30,112.94 L314.80,112.93 L315.30,112.93 L315.80,112.93 L316.30,112.93 L316.80,112.93 L317.30,112.92 L317.80,112.92 L318.30,112.92 L318.80,112.92 L319.30,112.92 L319.80,112.92 L320.30,112.92 L320.80,112.91 L321.00,112.91" fill="none" stroke="#2e2e2e" stroke-width="1.6" stroke-linejoin="round" stroke-linecap="round"/>
<path d="M34,8 V217.8 H321" fill="none" stroke="#555555" stroke-width="1.4"/>
<line x1="30" y1="217.80" x2="34" y2="217.80" stroke="#555555" stroke-width="1.3"/>
<line x1="32" y1="191.58" x2="34" y2="191.58" stroke="#555555" stroke-width="1.3"/>
<line x1="30" y1="165.35" x2="34" y2="165.35" stroke="#555555" stroke-width="1.3"/>
<line x1="32" y1="139.12" x2="34" y2="139.12" stroke="#555555" stroke-width="1.3"/>
<line x1="30" y1="112.90" x2="34" y2="112.90" stroke="#555555" stroke-width="1.3"/>
<line x1="32" y1="86.68" x2="34" y2="86.68" stroke="#555555" stroke-width="1.3"/>
<line x1="30" y1="60.45" x2="34" y2="60.45" stroke="#555555" stroke-width="1.3"/>
<line x1="32" y1="34.22" x2="34" y2="34.22" stroke="#555555" stroke-width="1.3"/>
<line x1="30" y1="8.00" x2="34" y2="8.00" stroke="#555555" stroke-width="1.3"/>
<line x1="34.00" y1="217.8" x2="34.00" y2="221.8" stroke="#555555" stroke-width="1.3"/>
<line x1="69.88" y1="217.8" x2="69.88" y2="219.8" stroke="#555555" stroke-width="1.3"/>
<line x1="105.75" y1="217.8" x2="105.75" y2="221.8" stroke="#555555" stroke-width="1.3"/>
<line x1="141.62" y1="217.8" x2="141.62" y2="219.8" stroke="#555555" stroke-width="1.3"/>
<line x1="177.50" y1="217.8" x2="177.50" y2="221.8" stroke="#555555" stroke-width="1.3"/>
<line x1="213.38" y1="217.8" x2="213.38" y2="219.8" stroke="#555555" stroke-width="1.3"/>
<line x1="249.25" y1="217.8" x2="249.25" y2="221.8" stroke="#555555" stroke-width="1.3"/>
<line x1="285.12" y1="217.8" x2="285.12" y2="219.8" stroke="#555555" stroke-width="1.3"/>
<line x1="321.00" y1="217.8" x2="321.00" y2="221.8" stroke="#555555" stroke-width="1.3"/>
<text x="27" y="11.60" text-anchor="end" class="t">16</text>
<text x="27" y="64.05" text-anchor="end" class="t">8</text>
<text x="27" y="116.50" text-anchor="end" class="t">0</text>
<text x="27" y="168.95" text-anchor="end" class="t">-8</text>
<text x="27" y="221.40" text-anchor="end" class="t">-16</text>
<text x="34.00" y="232.60" text-anchor="middle" class="t">200</text>
<text x="105.75" y="232.60" text-anchor="middle" class="t">250</text>
<text x="177.50" y="232.60" text-anchor="middle" class="t">300</text>
<text x="249.25" y="232.60" text-anchor="middle" class="t">350</text>
<text x="321.00" y="232.60" text-anchor="middle" class="t">400</text>
<text x="178.00" y="252.3" text-anchor="middle" class="xl">Wavelength (nm)</text>
<text transform="translate(10.4,110.3) rotate(-90)" text-anchor="middle" class="yl">&#916;&#949;</text>
<line x1="186" y1="20.20" x2="209" y2="20.20" stroke="#b8303e" stroke-width="1.2"/>
<text x="212" y="23.80" class="t">Calculated ECD of <tspan font-weight="bold">1A</tspan></text>
<line x1="186" y1="32.50" x2="209" y2="32.50" stroke="#3535a8" stroke-width="1.2"/>
<text x="212" y="36.10" class="t">Calculated ECD of <tspan font-weight="bold">1B</tspan></text>
<line x1="186" y1="44.80" x2="209" y2="44.80" stroke="#2e2e2e" stroke-width="1.2"/>
<text x="212" y="48.40" class="t">Experimental ECD of <tspan font-weight="bold">1</tspan></text>
<line x1="382" y1="114.0" x2="664" y2="114.0" stroke="#6a6a6a" stroke-width="1.5"/>
<path d="M382.00,81.55 L382.25,82.09 L382.45,82.64 L382.65,83.29 L382.80,83.84 L382.95,84.44 L383.10,85.11 L383.25,85.83 L383.35,86.34 L383.45,86.88 L383.55,87.44 L383.65,88.03 L383.75,88.64 L383.85,89.28 L383.95,89.94 L384.05,90.63 L384.15,91.34 L384.25,92.08 L384.35,92.84 L384.45,93.62 L384.55,94.43 L384.65,95.26 L384.75,96.11 L384.85,96.99 L384.95,97.88 L385.05,98.80 L385.15,99.74 L385.25,100.70 L385.35,101.68 L385.40,102.18 L385.45,102.68 L385.50,103.19 L385.55,103.70 L385.60,104.22 L385.65,104.74 L385.70,105.26 L385.75,105.79 L385.80,106.33 L385.85,106.87 L385.90,107.41 L385.95,107.96 L386.00,108.51 L386.05,109.06 L386.10,109.62 L386.15,110.19 L386.20,110.76 L386.25,111.33 L386.30,111.90 L386.35,112.48 L386.40,113.06 L386.45,113.65 L386.50,114.24 L386.55,114.83 L386.60,115.42 L386.65,116.02 L386.70,116.62 L386.75,117.23 L386.80,117.83 L386.85,118.44 L386.90,119.06 L386.95,119.67 L387.00,120.29 L387.05,120.91 L387.10,121.53 L387.15,122.16 L387.20,122.79 L387.25,123.41 L387.30,124.05 L387.35,124.68 L387.40,125.31 L387.45,125.95 L387.50,126.59 L387.55,127.23 L387.60,127.87 L387.65,128.51 L387.70,129.16 L387.75,129.80 L387.80,130.45 L387.85,131.10 L387.90,131.74 L387.95,132.39 L388.00,133.04 L388.05,133.69 L388.10,134.34 L388.15,135.00 L388.20,135.65 L388.25,136.30 L388.30,136.95 L388.35,137.61 L388.40,138.26 L388.45,138.91 L388.50,139.57 L388.55,140.22 L388.60,140.87 L388.65,141.52 L388.70,142.17 L388.75,142.82 L388.80,143.48 L388.85,144.12 L388.90,144.77 L388.95,145.42 L389.00,146.07 L389.05,146.72 L389.10,147.36 L389.15,148.00 L389.20,148.65 L389.25,149.29 L389.30,149.93 L389.35,150.57 L389.40,151.20 L389.45,151.84 L389.50,152.47 L389.55,153.10 L389.60,153.73 L389.65,154.36 L389.70,154.98 L389.75,155.61 L389.80,156.23 L389.85,156.85 L389.90,157.47 L389.95,158.08 L390.00,158.69 L390.05,159.30 L390.10,159.91 L390.15,160.51 L390.20,161.11 L390.25,161.71 L390.30,162.31 L390.35,162.90 L390.40,163.49 L390.45,164.08 L390.50,164.66 L390.55,165.24 L390.60,165.82 L390.65,166.40 L390.70,166.97 L390.75,167.53 L390.80,168.10 L390.85,168.66 L390.90,169.22 L390.95,169.77 L391.00,170.32 L391.05,170.87 L391.10,171.41 L391.15,171.95 L391.20,172.48 L391.25,173.01 L391.30,173.54 L391.35,174.07 L391.40,174.58 L391.45,175.10 L391.50,175.61 L391.55,176.12 L391.60,176.62 L391.65,177.12 L391.75,178.10 L391.85,179.07 L391.95,180.02 L392.05,180.95 L392.15,181.87 L392.25,182.77 L392.35,183.64 L392.45,184.50 L392.55,185.34 L392.65,186.17 L392.75,186.97 L392.85,187.75 L392.95,188.52 L393.05,189.26 L393.15,189.99 L393.25,190.69 L393.35,191.38 L393.45,192.05 L393.55,192.69 L393.65,193.32 L393.75,193.93 L393.85,194.51 L393.95,195.08 L394.05,195.63 L394.15,196.16 L394.25,196.67 L394.40,197.39 L394.55,198.08 L394.70,198.71 L394.85,199.31 L395.00,199.86 L395.15,200.37 L395.35,200.99 L395.55,201.52 L395.75,201.99 L396.00,202.47 L396.30,202.91 L396.70,203.26 L397.20,203.33 L397.65,203.07 L398.00,202.67 L398.30,202.21 L398.55,201.73 L398.80,201.18 L399.00,200.69 L399.20,200.15 L399.40,199.58 L399.60,198.96 L399.75,198.48 L399.90,197.97 L400.05,197.45 L400.20,196.91 L400.35,196.35 L400.50,195.77 L400.65,195.17 L400.80,194.56 L400.95,193.94 L401.10,193.30 L401.25,192.65 L401.40,191.99 L401.55,191.31 L401.70,190.63 L401.85,189.93 L402.00,189.23 L402.15,188.52 L402.30,187.79 L402.45,187.07 L402.60,186.33 L402.70,185.84 L402.80,185.34 L402.90,184.85 L403.00,184.35 L403.10,183.85 L403.20,183.34 L403.30,182.84 L403.40,182.33 L403.50,181.83 L403.60,181.32 L403.70,180.81 L403.80,180.31 L403.90,179.80 L404.00,179.29 L404.10,178.78 L404.20,178.28 L404.30,177.77 L404.40,177.26 L404.50,176.76 L404.60,176.25 L404.70,175.75 L404.80,175.25 L404.90,174.75 L405.00,174.25 L405.10,173.75 L405.20,173.25 L405.30,172.76 L405.40,172.27 L405.55,171.54 L405.70,170.81 L405.85,170.09 L406.00,169.38 L406.15,168.67 L406.30,167.98 L406.45,167.29 L406.60,166.60 L406.75,165.93 L406.90,165.27 L407.05,164.61 L407.20,163.97 L407.35,163.33 L407.50,162.71 L407.65,162.10 L407.80,161.50 L407.95,160.91 L408.10,160.33 L408.25,159.76 L408.40,159.21 L408.55,158.66 L408.70,158.13 L408.85,157.62 L409.00,157.11 L409.15,156.62 L409.30,156.14 L409.50,155.52 L409.70,154.93 L409.90,154.36 L410.10,153.82 L410.30,153.30 L410.50,152.80 L410.70,152.33 L410.95,151.78 L411.20,151.26 L411.45,150.79 L411.70,150.35 L412.00,149.87 L412.30,149.45 L412.65,149.03 L413.05,148.64 L413.45,148.33 L413.90,148.10 L414.40,147.96 L414.90,147.95 L415.40,148.06 L415.90,148.28 L416.35,148.56 L416.75,148.88 L417.15,149.25 L417.50,149.62 L417.85,150.02 L418.20,150.46 L418.55,150.93 L418.85,151.35 L419.15,151.79 L419.45,152.24 L419.75,152.70 L420.05,153.18 L420.35,153.67 L420.65,154.16 L420.95,154.66 L421.25,155.17 L421.55,155.68 L421.85,156.18 L422.15,156.69 L422.45,157.19 L422.75,157.69 L423.05,158.18 L423.35,158.66 L423.65,159.14 L423.95,159.60 L424.25,160.05 L424.55,160.49 L424.85,160.92 L425.15,161.32 L425.50,161.78 L425.85,162.21 L426.20,162.61 L426.55,162.98 L426.95,163.38 L427.35,163.73 L427.75,164.04 L428.20,164.33 L428.65,164.57 L429.15,164.77 L429.65,164.89 L430.15,164.94 L430.65,164.91 L431.15,164.80 L431.65,164.62 L432.10,164.39 L432.55,164.10 L432.95,163.79 L433.35,163.43 L433.75,163.03 L434.10,162.65 L434.45,162.22 L434.80,161.77 L435.10,161.35 L435.40,160.92 L435.70,160.46 L436.00,159.98 L436.30,159.48 L436.60,158.96 L436.85,158.51 L437.10,158.05 L437.35,157.58 L437.60,157.09 L437.85,156.60 L438.10,156.09 L438.35,155.57 L438.60,155.05 L438.85,154.51 L439.10,153.97 L439.35,153.42 L439.60,152.86 L439.85,152.29 L440.10,151.72 L440.30,151.26 L440.50,150.79 L440.70,150.32 L440.90,149.85 L441.10,149.38 L441.30,148.90 L441.50,148.42 L441.70,147.94 L441.90,147.46 L442.10,146.97 L442.30,146.49 L442.50,146.00 L442.70,145.52 L442.90,145.03 L443.10,144.54 L443.30,144.06 L443.50,143.57 L443.70,143.09 L443.90,142.60 L444.10,142.12 L444.30,141.64 L444.50,141.16 L444.70,140.68 L444.90,140.20 L445.10,139.73 L445.30,139.26 L445.50,138.79 L445.70,138.33 L445.90,137.86 L446.10,137.40 L446.35,136.84 L446.60,136.27 L446.85,135.72 L447.10,135.17 L447.35,134.62 L447.60,134.09 L447.85,133.56 L448.10,133.03 L448.35,132.52 L448.60,132.02 L448.85,131.52 L449.10,131.03 L449.35,130.55 L449.60,130.08 L449.85,129.62 L450.10,129.17 L450.35,128.73 L450.65,128.21 L450.95,127.71 L451.25,127.22 L451.55,126.75 L451.85,126.29 L452.15,125.84 L452.45,125.41 L452.75,125.00 L453.10,124.54 L453.45,124.09 L453.80,123.67 L454.15,123.27 L454.50,122.89 L454.85,122.52 L455.25,122.13 L455.65,121.76 L456.05,121.41 L456.45,121.09 L456.85,120.79 L457.30,120.47 L457.75,120.18 L458.20,119.90 L458.65,119.65 L459.10,119.41 L459.55,119.19 L460.05,118.95 L460.55,118.73 L461.05,118.52 L461.55,118.32 L462.05,118.12 L462.55,117.93 L463.05,117.74 L463.55,117.55 L464.05,117.36 L464.55,117.17 L465.05,116.99 L465.55,116.80 L466.05,116.61 L466.55,116.43 L467.05,116.24 L467.55,116.06 L468.05,115.89 L468.55,115.72 L469.05,115.56 L469.55,115.40 L470.05,115.26 L470.55,115.12 L471.05,114.99 L471.55,114.87 L472.05,114.76 L472.55,114.66 L473.05,114.57 L473.55,114.49 L474.05,114.42 L474.55,114.36 L475.05,114.30 L475.55,114.26 L476.05,114.21 L476.55,114.18 L477.05,114.15 L477.55,114.12 L478.05,114.10 L478.55,114.08 L479.05,114.07 L479.55,114.06 L480.05,114.04 L480.55,114.04 L481.05,114.03 L481.55,114.02 L482.05,114.02 L482.55,114.02 L483.05,114.01 L483.55,114.01 L484.05,114.01 L484.55,114.01 L485.05,114.01 L485.55,114.00 L486.05,114.00 L486.55,114.00 L487.05,114.00 L487.55,114.00 L488.05,114.00 L488.55,114.00 L489.05,114.00 L489.55,114.00 L490.05,114.00 L490.55,114.00 L491.05,114.00 L491.55,114.00 L492.05,114.00 L492.55,114.00 L493.05,114.00 L493.55,114.00 L494.05,114.00 L494.55,114.00 L495.05,114.00 L495.55,114.00 L496.05,114.00 L496.55,114.00 L497.05,114.00 L497.55,114.00 L498.05,114.00 L498.55,114.00 L499.05,114.00 L499.55,114.00 L500.05,114.00 L500.55,114.00 L501.05,114.00 L501.55,114.00 L502.05,114.00 L502.55,114.00 L503.05,114.00 L503.55,114.00 L504.05,114.00 L504.55,114.00 L505.05,114.00 L505.55,114.00 L506.05,114.00 L506.55,114.00 L507.05,114.00 L507.55,114.00 L508.05,114.00 L508.55,114.00 L509.05,114.00 L509.55,114.00 L510.05,114.00 L510.55,114.00 L511.05,114.00 L511.55,114.00 L512.05,114.00 L512.55,114.00 L513.05,114.00 L513.55,114.00 L514.05,114.00 L514.55,114.00 L515.05,114.00 L515.55,114.00 L516.05,114.01 L516.55,114.01 L517.05,114.01 L517.55,114.01 L518.05,114.01 L518.55,114.01 L519.05,114.01 L519.55,114.01 L520.05,114.01 L520.55,114.01 L521.05,114.01 L521.55,114.01 L522.05,114.01 L522.55,114.02 L523.05,114.02 L523.55,114.02 L524.05,114.02 L524.55,114.02 L525.05,114.02 L525.55,114.03 L526.05,114.03 L526.55,114.03 L527.05,114.03 L527.55,114.04 L528.05,114.04 L528.55,114.04 L529.05,114.05 L529.55,114.05 L530.05,114.05 L530.55,114.06 L531.05,114.06 L531.55,114.07 L532.05,114.07 L532.55,114.08 L533.05,114.08 L533.55,114.09 L534.05,114.10 L534.55,114.10 L535.05,114.11 L535.55,114.12 L536.05,114.13 L536.55,114.13 L537.05,114.14 L537.55,114.15 L538.05,114.16 L538.55,114.17 L539.05,114.19 L539.55,114.20 L540.05,114.21 L540.55,114.22 L541.05,114.24 L541.55,114.25 L542.05,114.27 L542.55,114.28 L543.05,114.30 L543.55,114.32 L544.05,114.34 L544.55,114.36 L545.05,114.38 L545.55,114.40 L546.05,114.42 L546.55,114.44 L547.05,114.47 L547.55,114.49 L548.05,114.52 L548.55,114.55 L549.05,114.57 L549.55,114.60 L550.05,114.63 L550.55,114.67 L551.05,114.70 L551.55,114.73 L552.05,114.77 L552.55,114.80 L553.05,114.84 L553.55,114.88 L554.05,114.91 L554.55,114.95 L555.05,114.99 L555.55,115.04 L556.05,115.08 L556.55,115.12 L557.05,115.17 L557.55,115.22 L558.05,115.26 L558.55,115.31 L559.05,115.36 L559.55,115.41 L560.05,115.46 L560.55,115.51 L561.05,115.56 L561.55,115.62 L562.05,115.67 L562.55,115.73 L563.05,115.78 L563.55,115.84 L564.05,115.89 L564.55,115.95 L565.05,116.01 L565.55,116.06 L566.05,116.12 L566.55,116.18 L567.05,116.24 L567.55,116.29 L568.05,116.35 L568.55,116.41 L569.05,116.46 L569.55,116.52 L570.05,116.58 L570.55,116.63 L571.05,116.69 L571.55,116.74 L572.05,116.80 L572.55,116.85 L573.05,116.90 L573.55,116.95 L574.05,117.00 L574.55,117.05 L575.05,117.10 L575.55,117.14 L576.05,117.19 L576.55,117.23 L577.05,117.27 L577.55,117.31 L578.05,117.35 L578.55,117.39 L579.05,117.42 L579.55,117.45 L580.05,117.48 L580.55,117.51 L581.05,117.54 L581.55,117.56 L582.05,117.58 L582.55,117.60 L583.05,117.62 L583.55,117.64 L584.05,117.65 L584.55,117.66 L585.05,117.67 L585.55,117.67 L586.05,117.67 L586.55,117.67 L587.05,117.67 L587.55,117.67 L588.05,117.66 L588.55,117.65 L589.05,117.64 L589.55,117.63 L590.05,117.61 L590.55,117.59 L591.05,117.57 L591.55,117.55 L592.05,117.52 L592.55,117.49 L593.05,117.46 L593.55,117.43 L594.05,117.40 L594.55,117.36 L595.05,117.32 L595.55,117.28 L596.05,117.24 L596.55,117.20 L597.05,117.16 L597.55,117.11 L598.05,117.06 L598.55,117.02 L599.05,116.97 L599.55,116.92 L600.05,116.86 L600.55,116.81 L601.05,116.76 L601.55,116.70 L602.05,116.65 L602.55,116.59 L603.05,116.54 L603.55,116.48 L604.05,116.42 L604.55,116.37 L605.05,116.31 L605.55,116.25 L606.05,116.19 L606.55,116.14 L607.05,116.08 L607.55,116.02 L608.05,115.96 L608.55,115.91 L609.05,115.85 L609.55,115.80 L610.05,115.74 L610.55,115.69 L611.05,115.63 L611.55,115.58 L612.05,115.53 L612.55,115.47 L613.05,115.42 L613.55,115.37 L614.05,115.32 L614.55,115.28 L615.05,115.23 L615.55,115.18 L616.05,115.14 L616.55,115.09 L617.05,115.05 L617.55,115.01 L618.05,114.97 L618.55,114.92 L619.05,114.89 L619.55,114.85 L620.05,114.81 L620.55,114.78 L621.05,114.74 L621.55,114.71 L622.05,114.67 L622.55,114.64 L623.05,114.61 L623.55,114.58 L624.05,114.55 L624.55,114.53 L625.05,114.50 L625.55,114.48 L626.05,114.45 L626.55,114.43 L627.05,114.41 L627.55,114.38 L628.05,114.36 L628.55,114.34 L629.05,114.32 L629.55,114.31 L630.05,114.29 L630.55,114.27 L631.05,114.26 L631.55,114.24 L632.05,114.23 L632.55,114.21 L633.05,114.20 L633.55,114.19 L634.05,114.18 L634.55,114.17 L635.05,114.16 L635.55,114.15 L636.05,114.14 L636.55,114.13 L637.05,114.12 L637.55,114.11 L638.05,114.10 L638.55,114.10 L639.05,114.09 L639.55,114.08 L640.05,114.08 L640.55,114.07 L641.05,114.07 L641.55,114.06 L642.05,114.06 L642.55,114.05 L643.05,114.05 L643.55,114.05 L644.05,114.04 L644.55,114.04 L645.05,114.04 L645.55,114.03 L646.05,114.03 L646.55,114.03 L647.05,114.03 L647.55,114.03 L648.05,114.02 L648.55,114.02 L649.05,114.02 L649.55,114.02 L650.05,114.02 L650.55,114.02 L651.05,114.01 L651.55,114.01 L652.05,114.01 L652.55,114.01 L653.05,114.01 L653.55,114.01 L654.05,114.01 L654.55,114.01 L655.05,114.01 L655.55,114.01 L656.05,114.01 L656.55,114.01 L657.05,114.00 L657.55,114.00 L658.05,114.00 L658.55,114.00 L659.05,114.00 L659.55,114.00 L660.05,114.00 L660.55,114.00 L661.05,114.00 L661.55,114.00 L662.05,114.00 L662.55,114.00 L663.05,114.00 L663.55,114.00 L664.00,114.00" fill="none" stroke="#b8303e" stroke-width="1.6" stroke-linejoin="round" stroke-linecap="round"/>
<path d="M382.00,145.36 L382.20,144.81 L382.35,144.33 L382.50,143.79 L382.65,143.19 L382.80,142.53 L382.95,141.82 L383.05,141.31 L383.15,140.78 L383.25,140.22 L383.35,139.64 L383.45,139.03 L383.55,138.40 L383.65,137.74 L383.75,137.06 L383.85,136.35 L383.95,135.62 L384.05,134.87 L384.15,134.09 L384.25,133.29 L384.35,132.47 L384.45,131.62 L384.55,130.76 L384.65,129.87 L384.75,128.97 L384.85,128.04 L384.95,127.09 L385.05,126.12 L385.15,125.14 L385.20,124.64 L385.25,124.14 L385.30,123.63 L385.35,123.12 L385.40,122.60 L385.45,122.08 L385.50,121.56 L385.55,121.03 L385.60,120.50 L385.65,119.96 L385.70,119.42 L385.75,118.88 L385.80,118.33 L385.85,117.78 L385.90,117.23 L385.95,116.67 L386.00,116.11 L386.05,115.54 L386.10,114.98 L386.15,114.41 L386.20,113.83 L386.25,113.26 L386.30,112.68 L386.35,112.10 L386.40,111.52 L386.45,110.93 L386.50,110.34 L386.55,109.75 L386.60,109.16 L386.65,108.56 L386.70,107.97 L386.75,107.37 L386.80,106.77 L386.85,106.16 L386.90,105.56 L386.95,104.95 L387.00,104.34 L387.05,103.74 L387.10,103.13 L387.15,102.51 L387.20,101.90 L387.25,101.29 L387.30,100.67 L387.35,100.05 L387.40,99.44 L387.45,98.82 L387.50,98.20 L387.55,97.58 L387.60,96.96 L387.65,96.34 L387.70,95.72 L387.75,95.10 L387.80,94.48 L387.85,93.86 L387.90,93.23 L387.95,92.61 L388.00,91.99 L388.05,91.37 L388.10,90.75 L388.15,90.13 L388.20,89.51 L388.25,88.89 L388.30,88.27 L388.35,87.65 L388.40,87.03 L388.45,86.42 L388.50,85.80 L388.55,85.18 L388.60,84.57 L388.65,83.96 L388.70,83.34 L388.75,82.73 L388.80,82.12 L388.85,81.51 L388.90,80.91 L388.95,80.30 L389.00,79.70 L389.05,79.10 L389.10,78.49 L389.15,77.89 L389.20,77.30 L389.25,76.70 L389.30,76.11 L389.35,75.52 L389.40,74.93 L389.45,74.34 L389.50,73.75 L389.55,73.17 L389.60,72.59 L389.65,72.01 L389.70,71.43 L389.75,70.86 L389.80,70.29 L389.85,69.72 L389.90,69.15 L389.95,68.58 L390.00,68.02 L390.05,67.46 L390.10,66.91 L390.15,66.35 L390.20,65.80 L390.25,65.25 L390.30,64.71 L390.35,64.17 L390.40,63.63 L390.45,63.09 L390.50,62.56 L390.55,62.03 L390.60,61.50 L390.65,60.97 L390.70,60.45 L390.75,59.94 L390.80,59.42 L390.85,58.91 L390.90,58.40 L390.95,57.90 L391.00,57.40 L391.05,56.90 L391.15,55.91 L391.25,54.94 L391.35,53.98 L391.45,53.04 L391.55,52.11 L391.65,51.20 L391.75,50.30 L391.85,49.41 L391.95,48.54 L392.05,47.69 L392.15,46.85 L392.25,46.02 L392.35,45.21 L392.45,44.42 L392.55,43.64 L392.65,42.88 L392.75,42.13 L392.85,41.40 L392.95,40.69 L393.05,39.99 L393.15,39.31 L393.25,38.64 L393.35,37.99 L393.45,37.35 L393.55,36.73 L393.65,36.13 L393.75,35.54 L393.85,34.97 L393.95,34.41 L394.05,33.87 L394.15,33.35 L394.25,32.84 L394.35,32.35 L394.50,31.64 L394.65,30.96 L394.80,30.32 L394.95,29.72 L395.10,29.15 L395.25,28.61 L395.40,28.11 L395.60,27.50 L395.80,26.94 L396.00,26.44 L396.25,25.91 L396.50,25.46 L396.80,25.04 L397.20,24.67 L397.70,24.51 L398.20,24.68 L398.60,25.03 L398.95,25.50 L399.25,26.01 L399.50,26.51 L399.75,27.07 L399.95,27.57 L400.15,28.11 L400.35,28.68 L400.55,29.29 L400.70,29.77 L400.85,30.27 L401.00,30.79 L401.15,31.33 L401.30,31.88 L401.45,32.45 L401.60,33.04 L401.75,33.64 L401.90,34.25 L402.05,34.89 L402.20,35.53 L402.35,36.19 L402.50,36.85 L402.65,37.53 L402.80,38.22 L402.95,38.93 L403.10,39.64 L403.25,40.35 L403.40,41.08 L403.55,41.82 L403.65,42.31 L403.75,42.80 L403.85,43.30 L403.95,43.80 L404.05,44.31 L404.15,44.81 L404.25,45.32 L404.35,45.83 L404.45,46.34 L404.55,46.85 L404.65,47.36 L404.75,47.87 L404.85,48.38 L404.95,48.90 L405.05,49.41 L405.15,49.92 L405.25,50.44 L405.35,50.95 L405.45,51.46 L405.55,51.97 L405.65,52.49 L405.75,52.99 L405.85,53.50 L405.95,54.01 L406.05,54.52 L406.15,55.02 L406.25,55.52 L406.35,56.02 L406.45,56.52 L406.55,57.01 L406.65,57.51 L406.80,58.24 L406.95,58.97 L407.10,59.68 L407.25,60.40 L407.40,61.10 L407.55,61.79 L407.70,62.48 L407.85,63.16 L408.00,63.82 L408.15,64.48 L408.30,65.12 L408.45,65.76 L408.60,66.38 L408.75,66.99 L408.90,67.59 L409.05,68.18 L409.20,68.75 L409.35,69.31 L409.50,69.86 L409.65,70.39 L409.80,70.92 L409.95,71.42 L410.10,71.91 L410.25,72.39 L410.45,73.01 L410.65,73.60 L410.85,74.16 L411.05,74.70 L411.25,75.21 L411.45,75.69 L411.70,76.26 L411.95,76.78 L412.20,77.27 L412.45,77.71 L412.75,78.18 L413.05,78.59 L413.40,79.00 L413.80,79.38 L414.25,79.68 L414.75,79.87 L415.25,79.91 L415.75,79.83 L416.25,79.62 L416.70,79.33 L417.10,79.00 L417.50,78.60 L417.85,78.21 L418.20,77.78 L418.55,77.31 L418.85,76.88 L419.15,76.43 L419.45,75.96 L419.75,75.48 L420.05,74.98 L420.35,74.46 L420.60,74.03 L420.85,73.59 L421.10,73.14 L421.35,72.69 L421.60,72.24 L421.85,71.79 L422.10,71.34 L422.35,70.89 L422.60,70.44 L422.85,70.00 L423.10,69.56 L423.40,69.04 L423.70,68.53 L424.00,68.04 L424.30,67.56 L424.60,67.09 L424.90,66.64 L425.20,66.20 L425.50,65.79 L425.85,65.33 L426.20,64.90 L426.55,64.50 L426.90,64.14 L427.30,63.76 L427.70,63.43 L428.15,63.11 L428.60,62.86 L429.10,62.65 L429.60,62.52 L430.10,62.48 L430.60,62.51 L431.10,62.62 L431.60,62.81 L432.05,63.05 L432.50,63.35 L432.90,63.67 L433.30,64.03 L433.70,64.44 L434.05,64.83 L434.40,65.26 L434.75,65.71 L435.05,66.13 L435.35,66.56 L435.65,67.02 L435.95,67.49 L436.25,67.99 L436.55,68.50 L436.80,68.94 L437.05,69.39 L437.30,69.85 L437.55,70.31 L437.80,70.79 L438.05,71.28 L438.30,71.78 L438.55,72.28 L438.80,72.79 L439.05,73.31 L439.30,73.83 L439.55,74.36 L439.80,74.89 L440.05,75.43 L440.30,75.97 L440.55,76.51 L440.80,77.06 L441.05,77.61 L441.30,78.16 L441.55,78.72 L441.80,79.27 L442.05,79.83 L442.30,80.38 L442.55,80.94 L442.80,81.49 L443.05,82.04 L443.30,82.59 L443.55,83.14 L443.80,83.69 L444.05,84.24 L444.30,84.78 L444.55,85.32 L444.80,85.85 L445.05,86.38 L445.30,86.91 L445.55,87.43 L445.80,87.95 L446.05,88.47 L446.30,88.97 L446.55,89.48 L446.80,89.98 L447.05,90.47 L447.30,90.96 L447.55,91.44 L447.80,91.91 L448.05,92.38 L448.30,92.85 L448.55,93.30 L448.80,93.75 L449.05,94.20 L449.30,94.63 L449.60,95.15 L449.90,95.66 L450.20,96.16 L450.50,96.64 L450.80,97.12 L451.10,97.59 L451.40,98.05 L451.70,98.50 L452.00,98.94 L452.30,99.37 L452.60,99.80 L452.90,100.21 L453.20,100.61 L453.55,101.07 L453.90,101.52 L454.25,101.95 L454.60,102.37 L454.95,102.78 L455.30,103.18 L455.65,103.57 L456.00,103.95 L456.35,104.31 L456.75,104.72 L457.15,105.11 L457.55,105.49 L457.95,105.85 L458.35,106.20 L458.75,106.54 L459.15,106.87 L459.55,107.19 L459.95,107.49 L460.40,107.82 L460.85,108.14 L461.30,108.44 L461.75,108.73 L462.20,109.01 L462.65,109.27 L463.10,109.53 L463.55,109.77 L464.00,110.00 L464.45,110.22 L464.95,110.46 L465.45,110.68 L465.95,110.89 L466.45,111.09 L466.95,111.28 L467.45,111.46 L467.95,111.63 L468.45,111.79 L468.95,111.94 L469.45,112.09 L469.95,112.22 L470.45,112.35 L470.95,112.47 L471.45,112.58 L471.95,112.68 L472.45,112.78 L472.95,112.87 L473.45,112.96 L473.95,113.04 L474.45,113.12 L474.95,113.19 L475.45,113.25 L475.95,113.31 L476.45,113.37 L476.95,113.42 L477.45,113.47 L477.95,113.52 L478.45,113.56 L478.95,113.60 L479.45,113.63 L479.95,113.66 L480.45,113.69 L480.95,113.72 L481.45,113.75 L481.95,113.77 L482.45,113.79 L482.95,113.81 L483.45,113.83 L483.95,113.85 L484.45,113.86 L484.95,113.88 L485.45,113.89 L485.95,113.90 L486.45,113.91 L486.95,113.92 L487.45,113.93 L487.95,113.94 L488.45,113.94 L488.95,113.95 L489.45,113.95 L489.95,113.96 L490.45,113.96 L490.95,113.97 L491.45,113.97 L491.95,113.97 L492.45,113.98 L492.95,113.98 L493.45,113.98 L493.95,113.98 L494.45,113.99 L494.95,113.99 L495.45,113.99 L495.95,113.99 L496.45,113.99 L496.95,113.99 L497.45,113.99 L497.95,113.99 L498.45,113.99 L498.95,114.00 L499.45,114.00 L499.95,114.00 L500.45,114.00 L500.95,114.00 L501.45,114.00 L501.95,114.00 L502.45,114.00 L502.95,114.00 L503.45,114.00 L503.95,114.00 L504.45,114.00 L504.95,114.00 L505.45,114.00 L505.95,114.00 L506.45,114.00 L506.95,114.00 L507.45,114.00 L507.95,114.00 L508.45,114.00 L508.95,114.00 L509.45,114.00 L509.95,114.00 L510.45,114.00 L510.95,113.99 L511.45,113.99 L511.95,113.99 L512.45,113.99 L512.95,113.99 L513.45,113.99 L513.95,113.99 L514.45,113.99 L514.95,113.99 L515.45,113.99 L515.95,113.99 L516.45,113.99 L516.95,113.99 L517.45,113.99 L517.95,113.98 L518.45,113.98 L518.95,113.98 L519.45,113.98 L519.95,113.98 L520.45,113.98 L520.95,113.97 L521.45,113.97 L521.95,113.97 L522.45,113.97 L522.95,113.97 L523.45,113.96 L523.95,113.96 L524.45,113.96 L524.95,113.96 L525.45,113.95 L525.95,113.95 L526.45,113.95 L526.95,113.94 L527.45,113.94 L527.95,113.93 L528.45,113.93 L528.95,113.92 L529.45,113.92 L529.95,113.91 L530.45,113.91 L530.95,113.90 L531.45,113.89 L531.95,113.89 L532.45,113.88 L532.95,113.87 L533.45,113.86 L533.95,113.86 L534.45,113.85 L534.95,113.84 L535.45,113.83 L535.95,113.82 L536.45,113.81 L536.95,113.80 L537.45,113.79 L537.95,113.77 L538.45,113.76 L538.95,113.75 L539.45,113.73 L539.95,113.72 L540.45,113.70 L540.95,113.69 L541.45,113.67 L541.95,113.65 L542.45,113.64 L542.95,113.62 L543.45,113.60 L543.95,113.58 L544.45,113.56 L544.95,113.54 L545.45,113.52 L545.95,113.49 L546.45,113.47 L546.95,113.45 L547.45,113.42 L547.95,113.39 L548.45,113.37 L548.95,113.34 L549.45,113.31 L549.95,113.28 L550.45,113.25 L550.95,113.22 L551.45,113.19 L551.95,113.16 L552.45,113.13 L552.95,113.09 L553.45,113.06 L553.95,113.02 L554.45,112.99 L554.95,112.95 L555.45,112.91 L555.95,112.88 L556.45,112.84 L556.95,112.80 L557.45,112.76 L557.95,112.72 L558.45,112.68 L558.95,112.64 L559.45,112.60 L559.95,112.55 L560.45,112.51 L560.95,112.47 L561.45,112.42 L561.95,112.38 L562.45,112.34 L562.95,112.29 L563.45,112.25 L563.95,112.20 L564.45,112.16 L564.95,112.12 L565.45,112.07 L565.95,112.03 L566.45,111.98 L566.95,111.94 L567.45,111.90 L567.95,111.85 L568.45,111.81 L568.95,111.77 L569.45,111.73 L569.95,111.69 L570.45,111.65 L570.95,111.61 L571.45,111.57 L571.95,111.53 L572.45,111.49 L572.95,111.46 L573.45,111.42 L573.95,111.39 L574.45,111.35 L574.95,111.32 L575.45,111.29 L575.95,111.26 L576.45,111.23 L576.95,111.20 L577.45,111.18 L577.95,111.15 L578.45,111.13 L578.95,111.11 L579.45,111.09 L579.95,111.07 L580.45,111.05 L580.95,111.04 L581.45,111.03 L581.95,111.01 L582.45,111.00 L582.95,111.00 L583.45,110.99 L583.95,110.99 L584.45,110.98 L584.95,110.98 L585.45,110.98 L585.95,110.98 L586.45,110.99 L586.95,110.99 L587.45,111.00 L587.95,111.01 L588.45,111.02 L588.95,111.03 L589.45,111.05 L589.95,111.06 L590.45,111.08 L590.95,111.10 L591.45,111.12 L591.95,111.14 L592.45,111.17 L592.95,111.19 L593.45,111.22 L593.95,111.25 L594.45,111.28 L594.95,111.31 L595.45,111.34 L595.95,111.37 L596.45,111.40 L596.95,111.44 L597.45,111.48 L597.95,111.51 L598.45,111.55 L598.95,111.59 L599.45,111.63 L599.95,111.67 L600.45,111.71 L600.95,111.75 L601.45,111.79 L601.95,111.83 L602.45,111.88 L602.95,111.92 L603.45,111.96 L603.95,112.01 L604.45,112.05 L604.95,112.10 L605.45,112.14 L605.95,112.18 L606.45,112.23 L606.95,112.27 L607.45,112.32 L607.95,112.36 L608.45,112.40 L608.95,112.45 L609.45,112.49 L609.95,112.53 L610.45,112.58 L610.95,112.62 L611.45,112.66 L611.95,112.70 L612.45,112.74 L612.95,112.78 L613.45,112.82 L613.95,112.86 L614.45,112.90 L614.95,112.93 L615.45,112.97 L615.95,113.01 L616.45,113.04 L616.95,113.08 L617.45,113.11 L617.95,113.14 L618.45,113.18 L618.95,113.21 L619.45,113.24 L619.95,113.27 L620.45,113.30 L620.95,113.33 L621.45,113.36 L621.95,113.38 L622.45,113.41 L622.95,113.43 L623.45,113.46 L623.95,113.48 L624.45,113.51 L624.95,113.53 L625.45,113.55 L625.95,113.57 L626.45,113.59 L626.95,113.61 L627.45,113.63 L627.95,113.65 L628.45,113.66 L628.95,113.68 L629.45,113.70 L629.95,113.71 L630.45,113.73 L630.95,113.74 L631.45,113.75 L631.95,113.77 L632.45,113.78 L632.95,113.79 L633.45,113.80 L633.95,113.81 L634.45,113.82 L634.95,113.83 L635.45,113.84 L635.95,113.85 L636.45,113.86 L636.95,113.87 L637.45,113.88 L637.95,113.88 L638.45,113.89 L638.95,113.90 L639.45,113.90 L639.95,113.91 L640.45,113.92 L640.95,113.92 L641.45,113.93 L641.95,113.93 L642.45,113.94 L642.95,113.94 L643.45,113.94 L643.95,113.95 L644.45,113.95 L644.95,113.95 L645.45,113.96 L645.95,113.96 L646.45,113.96 L646.95,113.97 L647.45,113.97 L647.95,113.97 L648.45,113.97 L648.95,113.97 L649.45,113.98 L649.95,113.98 L650.45,113.98 L650.95,113.98 L651.45,113.98 L651.95,113.98 L652.45,113.98 L652.95,113.99 L653.45,113.99 L653.95,113.99 L654.45,113.99 L654.95,113.99 L655.45,113.99 L655.95,113.99 L656.45,113.99 L656.95,113.99 L657.45,113.99 L657.95,113.99 L658.45,113.99 L658.95,113.99 L659.45,114.00 L659.95,114.00 L660.45,114.00 L660.95,114.00 L661.45,114.00 L661.95,114.00 L662.45,114.00 L662.95,114.00 L663.45,114.00 L663.95,114.00 L664.00,114.00" fill="none" stroke="#3535a8" stroke-width="1.6" stroke-linejoin="round" stroke-linecap="round"/>
<path d="M382.00,105.02 L382.35,105.39 L382.70,105.77 L383.05,106.16 L383.40,106.58 L383.75,107.00 L384.10,107.44 L384.45,107.88 L384.80,108.34 L385.15,108.81 L385.45,109.21 L385.75,109.62 L386.05,110.03 L386.35,110.45 L386.65,110.86 L386.95,111.28 L387.25,111.70 L387.55,112.11 L387.85,112.53 L388.15,112.95 L388.45,113.36 L388.75,113.78 L389.05,114.19 L389.35,114.59 L389.65,115.00 L389.95,115.40 L390.25,115.80 L390.60,116.27 L390.95,116.73 L391.30,117.19 L391.65,117.65 L392.00,118.11 L392.35,118.58 L392.70,119.04 L393.00,119.44 L393.30,119.84 L393.60,120.25 L393.90,120.67 L394.20,121.08 L394.50,121.51 L394.80,121.95 L395.10,122.39 L395.40,122.85 L395.70,123.31 L396.00,123.79 L396.30,124.27 L396.60,124.77 L396.90,125.29 L397.15,125.72 L397.40,126.17 L397.65,126.62 L397.90,127.09 L398.15,127.56 L398.40,128.04 L398.65,128.53 L398.90,129.03 L399.15,129.53 L399.40,130.04 L399.65,130.55 L399.90,131.08 L400.15,131.60 L400.40,132.13 L400.65,132.66 L400.90,133.19 L401.15,133.72 L401.40,134.25 L401.65,134.77 L401.90,135.29 L402.15,135.81 L402.40,136.32 L402.65,136.82 L402.90,137.31 L403.15,137.79 L403.40,138.25 L403.65,138.71 L403.90,139.14 L404.20,139.64 L404.50,140.11 L404.80,140.56 L405.10,140.97 L405.45,141.41 L405.80,141.80 L406.20,142.19 L406.60,142.51 L407.05,142.78 L407.55,142.99 L408.05,143.08 L408.55,143.07 L409.05,142.96 L409.55,142.76 L410.00,142.51 L410.45,142.20 L410.85,141.89 L411.25,141.55 L411.65,141.20 L412.05,140.83 L412.45,140.46 L412.85,140.09 L413.25,139.75 L413.65,139.44 L414.10,139.13 L414.55,138.88 L415.05,138.69 L415.55,138.61 L416.05,138.65 L416.55,138.83 L417.00,139.12 L417.40,139.47 L417.75,139.87 L418.05,140.28 L418.35,140.74 L418.65,141.27 L418.90,141.75 L419.15,142.27 L419.40,142.84 L419.60,143.32 L419.80,143.83 L420.00,144.36 L420.20,144.92 L420.40,145.50 L420.60,146.11 L420.80,146.74 L420.95,147.23 L421.10,147.73 L421.25,148.24 L421.40,148.77 L421.55,149.30 L421.70,149.85 L421.85,150.41 L422.00,150.98 L422.15,151.56 L422.30,152.15 L422.45,152.74 L422.60,153.35 L422.75,153.96 L422.90,154.58 L423.05,155.21 L423.20,155.85 L423.35,156.49 L423.50,157.14 L423.65,157.79 L423.80,158.45 L423.95,159.11 L424.10,159.78 L424.25,160.44 L424.40,161.12 L424.55,161.79 L424.70,162.46 L424.85,163.14 L425.00,163.81 L425.15,164.49 L425.30,165.16 L425.45,165.83 L425.60,166.51 L425.75,167.17 L425.90,167.84 L426.05,168.50 L426.20,169.16 L426.35,169.81 L426.50,170.46 L426.65,171.10 L426.80,171.73 L426.95,172.36 L427.10,172.98 L427.25,173.59 L427.40,174.19 L427.55,174.79 L427.70,175.37 L427.85,175.95 L428.00,176.51 L428.15,177.07 L428.30,177.61 L428.45,178.14 L428.60,178.66 L428.75,179.17 L428.90,179.66 L429.05,180.14 L429.25,180.76 L429.45,181.36 L429.65,181.93 L429.85,182.47 L430.05,182.99 L430.25,183.48 L430.45,183.94 L430.70,184.48 L430.95,184.97 L431.20,185.41 L431.50,185.89 L431.80,186.30 L432.15,186.69 L432.55,187.02 L433.00,187.26 L433.50,187.35 L434.00,187.26 L434.45,187.04 L434.85,186.73 L435.25,186.33 L435.60,185.89 L435.90,185.47 L436.20,185.00 L436.50,184.48 L436.75,184.02 L437.00,183.53 L437.25,183.01 L437.50,182.47 L437.75,181.91 L437.95,181.44 L438.15,180.96 L438.35,180.47 L438.55,179.96 L438.75,179.45 L438.95,178.93 L439.15,178.39 L439.35,177.85 L439.55,177.30 L439.75,176.74 L439.95,176.18 L440.15,175.61 L440.35,175.04 L440.55,174.46 L440.75,173.87 L440.95,173.29 L441.15,172.70 L441.35,172.10 L441.55,171.51 L441.75,170.91 L441.95,170.31 L442.15,169.71 L442.35,169.11 L442.55,168.51 L442.75,167.91 L442.95,167.31 L443.15,166.71 L443.35,166.12 L443.55,165.52 L443.75,164.93 L443.95,164.33 L444.15,163.74 L444.35,163.15 L444.55,162.57 L444.75,161.98 L444.95,161.40 L445.15,160.82 L445.35,160.24 L445.55,159.67 L445.75,159.10 L445.95,158.53 L446.15,157.96 L446.35,157.40 L446.55,156.84 L446.75,156.28 L446.95,155.73 L447.15,155.18 L447.35,154.64 L447.55,154.09 L447.75,153.55 L447.95,153.02 L448.15,152.48 L448.35,151.95 L448.55,151.43 L448.75,150.90 L448.95,150.38 L449.15,149.86 L449.35,149.35 L449.55,148.84 L449.75,148.33 L449.95,147.83 L450.15,147.33 L450.35,146.83 L450.55,146.34 L450.75,145.85 L450.95,145.36 L451.15,144.88 L451.35,144.40 L451.55,143.92 L451.75,143.45 L451.95,142.97 L452.15,142.51 L452.35,142.04 L452.55,141.58 L452.80,141.01 L453.05,140.45 L453.30,139.89 L453.55,139.34 L453.80,138.79 L454.05,138.25 L454.30,137.71 L454.55,137.18 L454.80,136.66 L455.05,136.14 L455.30,135.63 L455.55,135.12 L455.80,134.62 L456.05,134.13 L456.30,133.64 L456.55,133.16 L456.80,132.69 L457.05,132.22 L457.30,131.76 L457.55,131.30 L457.80,130.85 L458.05,130.41 L458.30,129.98 L458.60,129.47 L458.90,128.96 L459.20,128.47 L459.50,127.99 L459.80,127.51 L460.10,127.05 L460.40,126.60 L460.70,126.15 L461.00,125.72 L461.30,125.30 L461.60,124.89 L461.90,124.48 L462.25,124.02 L462.60,123.58 L462.95,123.15 L463.30,122.73 L463.65,122.32 L464.00,121.93 L464.35,121.55 L464.70,121.19 L465.10,120.78 L465.50,120.39 L465.90,120.02 L466.30,119.66 L466.70,119.32 L467.10,119.00 L467.50,118.68 L467.95,118.35 L468.40,118.03 L468.85,117.73 L469.30,117.45 L469.75,117.18 L470.20,116.93 L470.65,116.69 L471.10,116.46 L471.60,116.23 L472.10,116.01 L472.60,115.81 L473.10,115.62 L473.60,115.45 L474.10,115.29 L474.60,115.14 L475.10,115.01 L475.60,114.88 L476.10,114.77 L476.60,114.66 L477.10,114.57 L477.60,114.48 L478.10,114.40 L478.60,114.33 L479.10,114.26 L479.60,114.21 L480.10,114.15 L480.60,114.11 L481.10,114.07 L481.60,114.03 L482.10,114.00 L482.60,113.97 L483.10,113.95 L483.60,113.93 L484.10,113.91 L484.60,113.90 L485.10,113.88 L485.60,113.87 L486.10,113.87 L486.60,113.86 L487.10,113.86 L487.60,113.85 L488.10,113.85 L488.60,113.85 L489.10,113.85 L489.60,113.85 L490.10,113.86 L490.60,113.86 L491.10,113.86 L491.60,113.87 L492.10,113.87 L492.60,113.87 L493.10,113.88 L493.60,113.88 L494.10,113.89 L494.60,113.89 L495.10,113.90 L495.60,113.90 L496.10,113.91 L496.60,113.91 L497.10,113.92 L497.60,113.92 L498.10,113.93 L498.60,113.93 L499.10,113.93 L499.60,113.94 L500.10,113.94 L500.60,113.95 L501.10,113.95 L501.60,113.95 L502.10,113.96 L502.60,113.96 L503.10,113.96 L503.60,113.96 L504.10,113.97 L504.60,113.97 L505.10,113.97 L505.60,113.97 L506.10,113.98 L506.60,113.98 L507.10,113.98 L507.60,113.98 L508.10,113.98 L508.60,113.98 L509.10,113.99 L509.60,113.99 L510.10,113.99 L510.60,113.99 L511.10,113.99 L511.60,113.99 L512.10,113.99 L512.60,113.99 L513.10,113.99 L513.60,114.00 L514.10,114.00 L514.60,114.00 L515.10,114.00 L515.60,114.00 L516.10,114.00 L516.60,114.00 L517.10,114.00 L517.60,114.00 L518.10,114.00 L518.60,114.00 L519.10,114.00 L519.60,114.00 L520.10,114.01 L520.60,114.01 L521.10,114.01 L521.60,114.01 L522.10,114.01 L522.60,114.01 L523.10,114.01 L523.60,114.01 L524.10,114.01 L524.60,114.02 L525.10,114.02 L525.60,114.02 L526.10,114.02 L526.60,114.02 L527.10,114.02 L527.60,114.03 L528.10,114.03 L528.60,114.03 L529.10,114.03 L529.60,114.04 L530.10,114.04 L530.60,114.04 L531.10,114.04 L531.60,114.05 L532.10,114.05 L532.60,114.06 L533.10,114.06 L533.60,114.06 L534.10,114.07 L534.60,114.07 L535.10,114.08 L535.60,114.08 L536.10,114.09 L536.60,114.10 L537.10,114.10 L537.60,114.11 L538.10,114.12 L538.60,114.13 L539.10,114.13 L539.60,114.14 L540.10,114.15 L540.60,114.16 L541.10,114.17 L541.60,114.18 L542.10,114.19 L542.60,114.20 L543.10,114.21 L543.60,114.23 L544.10,114.24 L544.60,114.25 L545.10,114.27 L545.60,114.28 L546.10,114.30 L546.60,114.32 L547.10,114.33 L547.60,114.35 L548.10,114.37 L548.60,114.39 L549.10,114.41 L549.60,114.43 L550.10,114.45 L550.60,114.47 L551.10,114.49 L551.60,114.51 L552.10,114.54 L552.60,114.56 L553.10,114.59 L553.60,114.61 L554.10,114.64 L554.60,114.67 L555.10,114.70 L555.60,114.73 L556.10,114.76 L556.60,114.79 L557.10,114.82 L557.60,114.85 L558.10,114.88 L558.60,114.91 L559.10,114.95 L559.60,114.98 L560.10,115.01 L560.60,115.05 L561.10,115.08 L561.60,115.12 L562.10,115.16 L562.60,115.19 L563.10,115.23 L563.60,115.27 L564.10,115.30 L564.60,115.34 L565.10,115.38 L565.60,115.42 L566.10,115.46 L566.60,115.49 L567.10,115.53 L567.60,115.57 L568.10,115.61 L568.60,115.64 L569.10,115.68 L569.60,115.72 L570.10,115.75 L570.60,115.79 L571.10,115.83 L571.60,115.86 L572.10,115.90 L572.60,115.93 L573.10,115.96 L573.60,115.99 L574.10,116.02 L574.60,116.06 L575.10,116.08 L575.60,116.11 L576.10,116.14 L576.60,116.17 L577.10,116.19 L577.60,116.22 L578.10,116.24 L578.60,116.26 L579.10,116.28 L579.60,116.30 L580.10,116.32 L580.60,116.33 L581.10,116.35 L581.60,116.36 L582.10,116.37 L582.60,116.38 L583.10,116.39 L583.60,116.39 L584.10,116.40 L584.60,116.40 L585.10,116.40 L585.60,116.40 L586.10,116.40 L586.60,116.40 L587.10,116.39 L587.60,116.39 L588.10,116.38 L588.60,116.37 L589.10,116.36 L589.60,116.35 L590.10,116.33 L590.60,116.32 L591.10,116.30 L591.60,116.28 L592.10,116.26 L592.60,116.24 L593.10,116.22 L593.60,116.19 L594.10,116.17 L594.60,116.14 L595.10,116.11 L595.60,116.09 L596.10,116.06 L596.60,116.03 L597.10,115.99 L597.60,115.96 L598.10,115.93 L598.60,115.90 L599.10,115.86 L599.60,115.83 L600.10,115.79 L600.60,115.76 L601.10,115.72 L601.60,115.68 L602.10,115.64 L602.60,115.61 L603.10,115.57 L603.60,115.53 L604.10,115.49 L604.60,115.46 L605.10,115.42 L605.60,115.38 L606.10,115.34 L606.60,115.31 L607.10,115.27 L607.60,115.23 L608.10,115.19 L608.60,115.16 L609.10,115.12 L609.60,115.09 L610.10,115.05 L610.60,115.02 L611.10,114.98 L611.60,114.95 L612.10,114.91 L612.60,114.88 L613.10,114.85 L613.60,114.82 L614.10,114.79 L614.60,114.76 L615.10,114.73 L615.60,114.70 L616.10,114.67 L616.60,114.64 L617.10,114.62 L617.60,114.59 L618.10,114.56 L618.60,114.54 L619.10,114.52 L619.60,114.49 L620.10,114.47 L620.60,114.45 L621.10,114.43 L621.60,114.41 L622.10,114.39 L622.60,114.37 L623.10,114.35 L623.60,114.33 L624.10,114.32 L624.60,114.30 L625.10,114.28 L625.60,114.27 L626.10,114.25 L626.60,114.24 L627.10,114.23 L627.60,114.22 L628.10,114.20 L628.60,114.19 L629.10,114.18 L629.60,114.17 L630.10,114.16 L630.60,114.15 L631.10,114.14 L631.60,114.13 L632.10,114.13 L632.60,114.12 L633.10,114.11 L633.60,114.10 L634.10,114.10 L634.60,114.09 L635.10,114.08 L635.60,114.08 L636.10,114.07 L636.60,114.07 L637.10,114.06 L637.60,114.06 L638.10,114.06 L638.60,114.05 L639.10,114.05 L639.60,114.04 L640.10,114.04 L640.60,114.04 L641.10,114.04 L641.60,114.03 L642.10,114.03 L642.60,114.03 L643.10,114.03 L643.60,114.02 L644.10,114.02 L644.60,114.02 L645.10,114.02 L645.60,114.02 L646.10,114.02 L646.60,114.02 L647.10,114.01 L647.60,114.01 L648.10,114.01 L648.60,114.01 L649.10,114.01 L649.60,114.01 L650.10,114.01 L650.60,114.01 L651.10,114.01 L651.60,114.01 L652.10,114.01 L652.60,114.01 L653.10,114.00 L653.60,114.00 L654.10,114.00 L654.60,114.00 L655.10,114.00 L655.60,114.00 L656.10,114.00 L656.60,114.00 L657.10,114.00 L657.60,114.00 L658.10,114.00 L658.60,114.00 L659.10,114.00 L659.60,114.00 L660.10,114.00 L660.60,114.00 L661.10,114.00 L661.60,114.00 L662.10,114.00 L662.60,114.00 L663.10,114.00 L663.60,114.00 L664.00,114.00" fill="none" stroke="#2e2e2e" stroke-width="1.6" stroke-linejoin="round" stroke-linecap="round"/>
<path d="M382,9 V219 H664" fill="none" stroke="#555555" stroke-width="1.4"/>
<line x1="378" y1="219.00" x2="382" y2="219.00" stroke="#555555" stroke-width="1.3"/>
<line x1="380" y1="192.75" x2="382" y2="192.75" stroke="#555555" stroke-width="1.3"/>
<line x1="378" y1="166.50" x2="382" y2="166.50" stroke="#555555" stroke-width="1.3"/>
<line x1="380" y1="140.25" x2="382" y2="140.25" stroke="#555555" stroke-width="1.3"/>
<line x1="378" y1="114.00" x2="382" y2="114.00" stroke="#555555" stroke-width="1.3"/>
<line x1="380" y1="87.75" x2="382" y2="87.75" stroke="#555555" stroke-width="1.3"/>
<line x1="378" y1="61.50" x2="382" y2="61.50" stroke="#555555" stroke-width="1.3"/>
<line x1="380" y1="35.25" x2="382" y2="35.25" stroke="#555555" stroke-width="1.3"/>
<line x1="378" y1="9.00" x2="382" y2="9.00" stroke="#555555" stroke-width="1.3"/>
<line x1="382.00" y1="219" x2="382.00" y2="223" stroke="#555555" stroke-width="1.3"/>
<line x1="417.25" y1="219" x2="417.25" y2="221" stroke="#555555" stroke-width="1.3"/>
<line x1="452.50" y1="219" x2="452.50" y2="223" stroke="#555555" stroke-width="1.3"/>
<line x1="487.75" y1="219" x2="487.75" y2="221" stroke="#555555" stroke-width="1.3"/>
<line x1="523.00" y1="219" x2="523.00" y2="223" stroke="#555555" stroke-width="1.3"/>
<line x1="558.25" y1="219" x2="558.25" y2="221" stroke="#555555" stroke-width="1.3"/>
<line x1="593.50" y1="219" x2="593.50" y2="223" stroke="#555555" stroke-width="1.3"/>
<line x1="628.75" y1="219" x2="628.75" y2="221" stroke="#555555" stroke-width="1.3"/>
<line x1="664.00" y1="219" x2="664.00" y2="223" stroke="#555555" stroke-width="1.3"/>
<text x="375" y="12.60" text-anchor="end" class="t">16</text>
<text x="375" y="65.10" text-anchor="end" class="t">8</text>
<text x="375" y="117.60" text-anchor="end" class="t">0</text>
<text x="375" y="170.10" text-anchor="end" class="t">-8</text>
<text x="375" y="222.60" text-anchor="end" class="t">-16</text>
<text x="382.00" y="233.80" text-anchor="middle" class="t">200</text>
<text x="452.50" y="233.80" text-anchor="middle" class="t">250</text>
<text x="523.00" y="233.80" text-anchor="middle" class="t">300</text>
<text x="593.50" y="233.80" text-anchor="middle" class="t">350</text>
<text x="664.00" y="233.80" text-anchor="middle" class="t">400</text>
<text x="523.50" y="253.5" text-anchor="middle" class="xl">Wavelength (nm)</text>
<text transform="translate(358.8,111.4) rotate(-90)" text-anchor="middle" class="yl">&#916;&#949;</text>
<line x1="536" y1="23.20" x2="559" y2="23.20" stroke="#b8303e" stroke-width="1.2"/>
<text x="562" y="26.80" class="t">Calculated ECD of <tspan font-weight="bold">2A</tspan></text>
<line x1="536" y1="35.60" x2="559" y2="35.60" stroke="#3535a8" stroke-width="1.2"/>
<text x="562" y="39.20" class="t">Calculated ECD of <tspan font-weight="bold">2B</tspan></text>
<line x1="536" y1="48.00" x2="559" y2="48.00" stroke="#2e2e2e" stroke-width="1.2"/>
<text x="562" y="51.60" class="t">Experimental ECD of <tspan font-weight="bold">2</tspan></text>
</svg>
</body></html>
